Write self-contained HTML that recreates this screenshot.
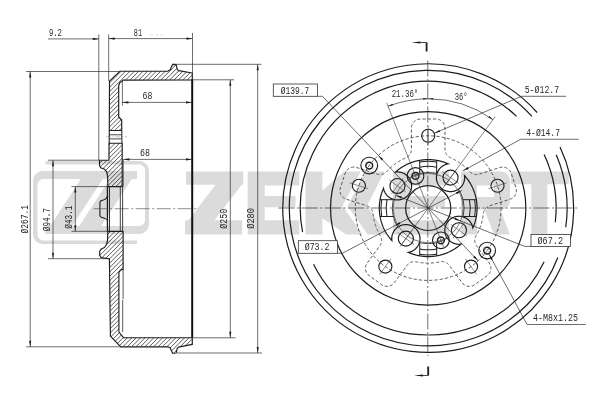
<!DOCTYPE html>
<html><head><meta charset="utf-8"><style>
html,body{margin:0;padding:0;background:#fff;}
svg{display:block;will-change:transform;}
text{font-family:"Liberation Mono",monospace;}
</style></head><body>
<svg width="600" height="400" viewBox="0 0 600 400">
<rect width="600" height="400" fill="#fff"/>
<path d="M96.03 234 L139 234 L140.56 233.88 L142.09 233.51 L143.54 232.91 L144.88 232.09 L146.07 231.07 L147.09 229.88 L147.91 228.54 L148.51 227.09 L148.88 225.56 L149 224 L149 171 L148.88 169.44 L148.51 167.91 L147.91 166.46 L147.09 165.12 L146.07 163.93 L144.88 162.91 L143.54 162.09 L142.09 161.49 L140.56 161.12 L139 161 L45.5 161 L45.5 164.5 L139 164.5 L139.94 164.57 L140.85 164.79 L141.72 165.15 L142.53 165.65 L143.24 166.26 L143.85 166.97 L144.35 167.78 L144.71 168.65 L144.93 169.56 L145 170.5 L145 220 L144.93 220.94 L144.71 221.85 L144.35 222.72 L143.85 223.53 L143.24 224.24 L142.53 224.85 L141.72 225.35 L140.85 225.71 L139.94 225.93 L139 226 L101.23 226 L131.78 179 L137 179 L137 171 L136.97 171 L114.97 171 L107.97 171 L85.97 171 L43 171 L41.44 171.12 L39.91 171.49 L38.46 172.09 L37.12 172.91 L35.93 173.93 L34.91 175.12 L34.09 176.46 L33.49 177.91 L33.12 179.44 L33 181 L33 234 L33.12 235.56 L33.49 237.09 L34.09 238.54 L34.91 239.88 L35.93 241.07 L37.12 242.09 L38.46 242.91 L39.91 243.51 L41.44 243.88 L43 244 L137 244 L137 240.5 L43.5 240.5 L42.56 240.43 L41.65 240.21 L40.78 239.85 L39.97 239.35 L39.26 238.74 L38.65 238.03 L38.15 237.22 L37.79 236.35 L37.57 235.44 L37.5 234.5 L37.5 185 L37.57 184.06 L37.79 183.15 L38.15 182.28 L38.65 181.47 L39.26 180.76 L39.97 180.15 L40.78 179.65 L41.65 179.29 L42.56 179.07 L43.5 179 L80.77 179 L50.23 226 L45.5 226 L45.5 233.27 L45.02 234 L45.5 234 L67.03 234 L74.03 234 L96.03 234Z M79.23 226 L72.23 226 L102.77 179 L109.77 179 L79.23 226Z M215.52 184.7 L188.48 220.3 L185 220.3 L185 234.4 L242.2 234.4 L242.2 220.3 L214.48 220.3 L241.72 184.7 L243.2 184.7 L243.2 171.6 L186 171.6 L186 184.7 L215.52 184.7Z M247.7 234.4 L264.7 234.4 L299.3 234.4 L299.3 220.3 L264.7 220.3 L264.7 207.2 L295.5 207.2 L295.5 196 L264.7 196 L264.7 185.6 L299.3 185.6 L299.3 171.6 L264.7 171.6 L247.7 171.6 L247.7 185.6 L247.7 196 L247.7 207.2 L247.7 220.3 L247.7 234.4Z M322.4 218.27 L346 234.4 L362.7 234.4 L342.5 206 L360.6 171.6 L344 171.6 L322.4 190.65 L322.4 171.6 L305.5 171.6 L305.5 234.4 L322.4 234.4 L322.4 218.27Z M365.6 171.6 L347.5 206 L367.7 234.4 L387 234.4 L367 206 L384.5 171.6 L365.6 171.6Z M393 220.3 L393 234.4 L410 234.4 L449 234.4 L449 220.3 L410 220.3 L410 207.2 L445 207.2 L445 196 L410 196 L410 185.6 L449 185.6 L449 171.6 L410 171.6 L393 171.6 L393 185.6 L393 196 L393 207.2 L393 220.3Z M501 209.5 L502.41 209.39 L503.78 209.06 L505.09 208.52 L506.29 207.78 L507.36 206.86 L508.28 205.79 L509.02 204.59 L509.56 203.28 L509.89 201.91 L510 200.5 L510 180.6 L509.89 179.19 L509.56 177.82 L509.02 176.51 L508.28 175.31 L507.36 174.24 L506.29 173.32 L505.09 172.58 L503.78 172.04 L502.41 171.71 L501 171.6 L477 171.6 L461 171.6 L461 209.5 L461 234.4 L477 234.4 L477 209.5 L484.2 209.5 L494 234.4 L510 234.4 L500.2 209.5 L501 209.5Z M477 197 L477 185.6 L494 185.6 L494 197 L477 197Z M510.7 171.6 L510.7 184.3 L531.3 184.3 L531.3 234.4 L547.3 234.4 L547.3 184.3 L568.7 184.3 L568.7 171.6 L547.3 171.6 L531.3 171.6 L510.7 171.6Z" fill="#dbdbdb" fill-rule="evenodd"/>
<clipPath id="sec"><path d="M192.3 73 L178.6 70.6 L177.2 69.2 L176.6 66.5 L176.2 64.6 L172.6 64.4 L171.6 66.5 L170.3 69.8 L168 71.1 L120.1 71.2 L109.5 81.1 L109.3 130.5 L121.7 130.5 L121.7 120 L118.7 117 L118.7 85.8 L119.6 83 L123 80.1 L192.3 80 Z M109 143.2 L109 160.2 L99.5 160.2 L99.5 165.5 L100.7 167.7 L104.5 169.2 L106.7 172.2 L107.6 176 L107.8 186.6 L122.2 186.6 L122.2 143.2 Z M108.2 231.4 L123.1 231.4 L123.1 269.4 L120.3 270.3 L118.9 272.5 L118.9 332 L123.5 337.7 L192.3 337.7 L192.3 344.4 L178.6 347.1 L177.2 348.5 L176.6 351.2 L176.2 353 L172.6 353.2 L171.6 351.2 L170.3 347.9 L168 346.8 L120.8 346.8 L110.4 336.2 L109.4 258.7 L101.2 257.6 L99.7 255.5 L99.7 251.2 L101.2 249 L104.5 247.5 L106.5 244.5 L107.6 240 L107.8 231.4 Z"/></clipPath>
<path clip-path="url(#sec)" d="M-300 400 L100 0 M-295.6 400 L104.4 0 M-291.2 400 L108.8 0 M-286.8 400 L113.2 0 M-282.4 400 L117.6 0 M-278 400 L122 0 M-273.6 400 L126.4 0 M-269.2 400 L130.8 0 M-264.8 400 L135.2 0 M-260.4 400 L139.6 0 M-256 400 L144 0 M-251.6 400 L148.4 0 M-247.2 400 L152.8 0 M-242.8 400 L157.2 0 M-238.4 400 L161.6 0 M-234 400 L166 0 M-229.6 400 L170.4 0 M-225.2 400 L174.8 0 M-220.8 400 L179.2 0 M-216.4 400 L183.6 0 M-212 400 L188 0 M-207.6 400 L192.4 0 M-203.2 400 L196.8 0 M-198.8 400 L201.2 0 M-194.4 400 L205.6 0 M-190 400 L210 0 M-185.6 400 L214.4 0 M-181.2 400 L218.8 0 M-176.8 400 L223.2 0 M-172.4 400 L227.6 0 M-168 400 L232 0 M-163.6 400 L236.4 0 M-159.2 400 L240.8 0 M-154.8 400 L245.2 0 M-150.4 400 L249.6 0 M-146 400 L254 0 M-141.6 400 L258.4 0 M-137.2 400 L262.8 0 M-132.8 400 L267.2 0 M-128.4 400 L271.6 0 M-124 400 L276 0 M-119.6 400 L280.4 0 M-115.2 400 L284.8 0 M-110.8 400 L289.2 0 M-106.4 400 L293.6 0 M-102 400 L298 0 M-97.6 400 L302.4 0 M-93.2 400 L306.8 0 M-88.8 400 L311.2 0 M-84.4 400 L315.6 0 M-80 400 L320 0 M-75.6 400 L324.4 0 M-71.2 400 L328.8 0 M-66.8 400 L333.2 0 M-62.4 400 L337.6 0 M-58 400 L342 0 M-53.6 400 L346.4 0 M-49.2 400 L350.8 0 M-44.8 400 L355.2 0 M-40.4 400 L359.6 0 M-36 400 L364 0 M-31.6 400 L368.4 0 M-27.2 400 L372.8 0 M-22.8 400 L377.2 0 M-18.4 400 L381.6 0 M-14 400 L386 0 M-9.6 400 L390.4 0 M-5.2 400 L394.8 0 M-0.8 400 L399.2 0 M3.6 400 L403.6 0 M8 400 L408 0 M12.4 400 L412.4 0 M16.8 400 L416.8 0 M21.2 400 L421.2 0 M25.6 400 L425.6 0 M30 400 L430 0 M34.4 400 L434.4 0 M38.8 400 L438.8 0 M43.2 400 L443.2 0 M47.6 400 L447.6 0 M52 400 L452 0 M56.4 400 L456.4 0 M60.8 400 L460.8 0 M65.2 400 L465.2 0 M69.6 400 L469.6 0 M74 400 L474 0 M78.4 400 L478.4 0 M82.8 400 L482.8 0 M87.2 400 L487.2 0 M91.6 400 L491.6 0 M96 400 L496 0 M100.4 400 L500.4 0 M104.8 400 L504.8 0 M109.2 400 L509.2 0 M113.6 400 L513.6 0 M118 400 L518 0 M122.4 400 L522.4 0 M126.8 400 L526.8 0 M131.2 400 L531.2 0 M135.6 400 L535.6 0 M140 400 L540 0 M144.4 400 L544.4 0 M148.8 400 L548.8 0 M153.2 400 L553.2 0 M157.6 400 L557.6 0 M162 400 L562 0 M166.4 400 L566.4 0 M170.8 400 L570.8 0 M175.2 400 L575.2 0 M179.6 400 L579.6 0 M184 400 L584 0 M188.4 400 L588.4 0 M192.8 400 L592.8 0 M197.2 400 L597.2 0 M201.6 400 L601.6 0 M206 400 L606 0 M210.4 400 L610.4 0 M214.8 400 L614.8 0 M219.2 400 L619.2 0" stroke="#333" stroke-width="0.8" fill="none"/>
<path d="M192.3 73 L178.6 70.6 L177.2 69.2 L176.6 66.5 L176.2 64.6 L172.6 64.4 L171.6 66.5 L170.3 69.8 L168 71.1 L120.1 71.2 L109.5 81.1 L109.3 130.5 L121.7 130.5 L121.7 120 L118.7 117 L118.7 85.8 L119.6 83 L123 80.1 L192.3 80 Z" fill="none" stroke="#1c1c1c" stroke-width="1.15" stroke-linejoin="round"/>
<path d="M109 143.2 L109 160.2 L99.5 160.2 L99.5 165.5 L100.7 167.7 L104.5 169.2 L106.7 172.2 L107.6 176 L107.8 186.6 L122.2 186.6 L122.2 143.2 Z" fill="none" stroke="#1c1c1c" stroke-width="1.15" stroke-linejoin="round"/>
<path d="M108.2 231.4 L123.1 231.4 L123.1 269.4 L120.3 270.3 L118.9 272.5 L118.9 332 L123.5 337.7 L192.3 337.7 L192.3 344.4 L178.6 347.1 L177.2 348.5 L176.6 351.2 L176.2 353 L172.6 353.2 L171.6 351.2 L170.3 347.9 L168 346.8 L120.8 346.8 L110.4 336.2 L109.4 258.7 L101.2 257.6 L99.7 255.5 L99.7 251.2 L101.2 249 L104.5 247.5 L106.5 244.5 L107.6 240 L107.8 231.4 Z" fill="none" stroke="#1c1c1c" stroke-width="1.15" stroke-linejoin="round"/>
<line x1="107.4" y1="186.6" x2="107.4" y2="231.4" stroke="#1c1c1c" stroke-width="1.2" stroke-linecap="butt"/>
<line x1="109.4" y1="186.6" x2="109.4" y2="231.4" stroke="#1c1c1c" stroke-width="1.0" stroke-linecap="butt"/>
<path d="M107.4 195.8 C107 199.3 103.5 200.2 101.3 200.6 Q99.9 201 99.9 202.8 L99.9 215 Q99.9 216.8 101.3 217.2 C103.5 217.7 107 218.5 107.4 220.6" fill="none" stroke="#1c1c1c" stroke-width="1.1"/>
<line x1="120.3" y1="186.6" x2="120.3" y2="231.4" stroke="#2e2e2e" stroke-width="0.9" stroke-linecap="butt"/>
<line x1="123.3" y1="159.4" x2="123.3" y2="186.6" stroke="#2e2e2e" stroke-width="0.7" stroke-linecap="butt"/>
<line x1="122.6" y1="186.6" x2="122.6" y2="231.4" stroke="#2e2e2e" stroke-width="0.9" stroke-linecap="butt"/>
<line x1="109.3" y1="130.5" x2="109.2" y2="143.2" stroke="#1c1c1c" stroke-width="1.1" stroke-linecap="butt"/>
<line x1="121.8" y1="130.5" x2="121.9" y2="143.2" stroke="#1c1c1c" stroke-width="1.0" stroke-linecap="butt"/>
<line x1="109.3" y1="134.8" x2="121.7" y2="134.8" stroke="#333" stroke-width="0.9" stroke-linecap="butt"/>
<line x1="109.3" y1="138.9" x2="121.7" y2="138.9" stroke="#333" stroke-width="0.9" stroke-linecap="butt"/>
<line x1="106" y1="136.8" x2="127" y2="136.8" stroke="#888" stroke-width="0.5" stroke-dasharray="5,1.5,1.5,1.5" stroke-linecap="butt"/>
<line x1="122.4" y1="80" x2="122.4" y2="105.5" stroke="#2e2e2e" stroke-width="0.7" stroke-linecap="butt"/>
<line x1="123.1" y1="269.4" x2="123.1" y2="299" stroke="#2e2e2e" stroke-width="0.8" stroke-linecap="butt"/>
<line x1="122.7" y1="300" x2="122.7" y2="332" stroke="#2e2e2e" stroke-width="0.8" stroke-linecap="butt"/>
<line x1="192.2" y1="79.8" x2="192.2" y2="337.8" stroke="#111" stroke-width="2.0" stroke-linecap="butt"/>
<line x1="98.8" y1="34.5" x2="98.8" y2="160.2" stroke="#2e2e2e" stroke-width="0.7" stroke-linecap="butt"/>
<line x1="108.7" y1="34.5" x2="108.7" y2="81" stroke="#2e2e2e" stroke-width="0.7" stroke-linecap="butt"/>
<line x1="192.5" y1="33" x2="192.5" y2="73" stroke="#2e2e2e" stroke-width="0.7" stroke-linecap="butt"/>
<line x1="26" y1="71.5" x2="120" y2="71.5" stroke="#2e2e2e" stroke-width="0.7" stroke-linecap="butt"/>
<line x1="172.5" y1="64.3" x2="261.5" y2="64.3" stroke="#2e2e2e" stroke-width="0.7" stroke-linecap="butt"/>
<line x1="192.3" y1="79.8" x2="234" y2="79.8" stroke="#2e2e2e" stroke-width="0.7" stroke-linecap="butt"/>
<line x1="192.3" y1="337.8" x2="235.5" y2="337.8" stroke="#2e2e2e" stroke-width="0.7" stroke-linecap="butt"/>
<line x1="177" y1="353" x2="262" y2="353" stroke="#2e2e2e" stroke-width="0.7" stroke-linecap="butt"/>
<line x1="26" y1="346.8" x2="120.8" y2="346.8" stroke="#2e2e2e" stroke-width="0.7" stroke-linecap="butt"/>
<line x1="48" y1="160.2" x2="99.5" y2="160.2" stroke="#2e2e2e" stroke-width="0.7" stroke-linecap="butt"/>
<line x1="48" y1="258.7" x2="109.4" y2="258.7" stroke="#2e2e2e" stroke-width="0.7" stroke-linecap="butt"/>
<line x1="71.5" y1="186.6" x2="108" y2="186.6" stroke="#2e2e2e" stroke-width="0.7" stroke-linecap="butt"/>
<line x1="71.5" y1="231.3" x2="108" y2="231.3" stroke="#2e2e2e" stroke-width="0.7" stroke-linecap="butt"/>
<line x1="48" y1="38.9" x2="98.8" y2="38.9" stroke="#2e2e2e" stroke-width="0.7" stroke-linecap="butt"/>
<path d="M98.8 38.9 L92.8 39.95 L92.8 37.85 Z" fill="#1c1c1c"/>
<line x1="108.7" y1="38.6" x2="192.5" y2="38.6" stroke="#2e2e2e" stroke-width="0.7" stroke-linecap="butt"/>
<path d="M108.7 38.6 L114.7 37.55 L114.7 39.65 Z" fill="#1c1c1c"/>
<path d="M192.5 38.6 L186.5 39.65 L186.5 37.55 Z" fill="#1c1c1c"/>
<line x1="122.4" y1="102.4" x2="192" y2="102.4" stroke="#2e2e2e" stroke-width="0.7" stroke-linecap="butt"/>
<path d="M122.4 102.4 L128.4 101.35 L128.4 103.45 Z" fill="#1c1c1c"/>
<path d="M192 102.4 L186 103.45 L186 101.35 Z" fill="#1c1c1c"/>
<line x1="123.4" y1="159.4" x2="192" y2="159.4" stroke="#2e2e2e" stroke-width="0.7" stroke-linecap="butt"/>
<path d="M123.4 159.4 L129.4 158.35 L129.4 160.45 Z" fill="#1c1c1c"/>
<path d="M192 159.4 L186 160.45 L186 158.35 Z" fill="#1c1c1c"/>
<line x1="30.2" y1="71.5" x2="30.2" y2="346.8" stroke="#2e2e2e" stroke-width="0.7" stroke-linecap="butt"/>
<path d="M30.2 71.5 L31.25 77.5 L29.15 77.5 Z" fill="#1c1c1c"/>
<path d="M30.2 346.8 L29.15 340.8 L31.25 340.8 Z" fill="#1c1c1c"/>
<line x1="53" y1="160.2" x2="53" y2="258.7" stroke="#2e2e2e" stroke-width="0.7" stroke-linecap="butt"/>
<path d="M53 160.2 L54.05 166.2 L51.95 166.2 Z" fill="#1c1c1c"/>
<path d="M53 258.7 L51.95 252.7 L54.05 252.7 Z" fill="#1c1c1c"/>
<line x1="75.3" y1="186.6" x2="75.3" y2="231.3" stroke="#2e2e2e" stroke-width="0.7" stroke-linecap="butt"/>
<path d="M75.3 186.6 L76.35 192.6 L74.25 192.6 Z" fill="#1c1c1c"/>
<path d="M75.3 231.3 L74.25 225.3 L76.35 225.3 Z" fill="#1c1c1c"/>
<line x1="230.3" y1="79.8" x2="230.3" y2="337.8" stroke="#2e2e2e" stroke-width="0.7" stroke-linecap="butt"/>
<path d="M230.3 79.8 L231.35 85.8 L229.25 85.8 Z" fill="#1c1c1c"/>
<path d="M230.3 337.8 L229.25 331.8 L231.35 331.8 Z" fill="#1c1c1c"/>
<line x1="257.7" y1="64.3" x2="257.7" y2="353" stroke="#2e2e2e" stroke-width="0.7" stroke-linecap="butt"/>
<path d="M257.7 64.3 L258.75 70.3 L256.65 70.3 Z" fill="#1c1c1c"/>
<path d="M257.7 353 L256.65 347 L258.75 347 Z" fill="#1c1c1c"/>
<line x1="93.7" y1="208.7" x2="199" y2="208.7" stroke="#444" stroke-width="0.6" stroke-dasharray="14,2.5,2,2.5" stroke-linecap="butt"/>
<line x1="150.8" y1="34.9" x2="165.7" y2="34.9" stroke="#bbb" stroke-width="0.6" stroke-dasharray="2,3" stroke-linecap="butt"/>
<text x="48.9" y="36.1" font-size="10.4" textLength="13.1" lengthAdjust="spacingAndGlyphs" fill="#2a2a2a">9.2</text>
<text x="133.8" y="35.8" font-size="10.4" textLength="8.2" lengthAdjust="spacingAndGlyphs" fill="#2a2a2a">81</text>
<text x="142.6" y="99" font-size="10.4" textLength="9.8" lengthAdjust="spacingAndGlyphs" fill="#2a2a2a">68</text>
<text x="140" y="156" font-size="10.4" textLength="10" lengthAdjust="spacingAndGlyphs" fill="#2a2a2a">68</text>
<text x="28" y="233.5" font-size="10.4" textLength="28.5" lengthAdjust="spacingAndGlyphs" fill="#2a2a2a" transform="rotate(-90 28 233.5)">Ø267.1</text>
<text x="49.7" y="231.2" font-size="10.4" textLength="23.2" lengthAdjust="spacingAndGlyphs" fill="#2a2a2a" transform="rotate(-90 49.7 231.2)">Ø94.7</text>
<text x="72.3" y="228.7" font-size="10.4" textLength="23.2" lengthAdjust="spacingAndGlyphs" fill="#2a2a2a" transform="rotate(-90 72.3 228.7)">Ø43.1</text>
<text x="226.9" y="228.75" font-size="10.4" textLength="20" lengthAdjust="spacingAndGlyphs" fill="#2a2a2a" transform="rotate(-90 226.9 228.75)">Ø250</text>
<text x="254.4" y="228.75" font-size="10.4" textLength="20.75" lengthAdjust="spacingAndGlyphs" fill="#2a2a2a" transform="rotate(-90 254.4 228.75)">Ø280</text>
<g transform="matrix(1.008,0,0,1,-3.43,0)">
<path d="M558.98 147.12 A144.3 144.3 0 1 1 536.27 112.48" fill="none" stroke="#1c1c1c" stroke-width="1.2"/>
<path d="M555.23 154.7 A137.8 137.8 0 0 1 564.66 227.28" fill="none" stroke="#1c1c1c" stroke-width="1.2"/>
<path d="M556.85 257.48 A137.8 137.8 0 1 1 531.09 116.43" fill="none" stroke="#1c1c1c" stroke-width="1.2"/>
<path d="M543.21 154.47 A126.9 126.9 0 0 1 554.31 222.25" fill="none" stroke="#1c1c1c" stroke-width="1.2"/>
<path d="M543.21 261.73 A126.9 126.9 0 0 1 314.44 264.33" fill="none" stroke="#1c1c1c" stroke-width="1.2"/>
<path d="M303.59 232.1 A126.9 126.9 0 0 1 515.87 116.36" fill="none" stroke="#1c1c1c" stroke-width="1.2"/>
<ellipse cx="428.2" cy="208.35" rx="96.9" ry="96.75" fill="none" stroke="#1c1c1c" stroke-width="1.2"/>
<circle cx="428.2" cy="208.1" r="72.3" fill="none" stroke="#333" stroke-width="0.8" stroke-dasharray="3.2,2"/>
<path d="M367.29 205.82 L367.5 205.89 L367.71 205.96 L367.91 206.04 L368.12 206.13 L368.32 206.22 L368.52 206.32 L368.72 206.42 L368.91 206.53 L369.1 206.64 L369.29 206.75 L369.48 206.87 L369.66 207 L369.84 207.13 L370.02 207.26 L370.19 207.4 L370.37 207.54 L370.53 207.69 L370.69 207.84 L370.85 207.99 L371.01 208.15 L371.16 208.31 L371.31 208.48 L371.45 208.65 L371.59 208.82 L371.73 209 L371.86 209.18 L371.98 209.36 L372.1 209.55 L372.22 209.73 L372.33 209.93 L372.44 210.12 L372.54 210.32 L372.64 210.52 L372.73 210.72 L372.82 210.92 L372.9 211.13 L372.98 211.33 L373.05 211.54 L373.12 211.76 L373.18 211.97 L373.24 212.18 L373.29 212.4 L373.33 212.62 L373.38 212.83 L373.41 213.05 L373.44 213.27 L373.47 213.49 L373.47 213.52 L373.53 214.13 L373.54 214.19 L373.61 214.81 L373.62 214.86 L373.7 215.47 L373.7 215.53 L373.79 216.14 L373.8 216.2 L373.89 216.81 L373.9 216.86 L374.01 217.48 L374.01 217.53 L374.12 218.14 L374.13 218.19 L374.25 218.8 L374.26 218.86 L374.39 219.46 L374.4 219.52 L374.53 220.12 L374.54 220.18 L374.68 220.78 L374.69 220.84 L374.84 221.44 L374.86 221.49 L375.01 222.09 L375.02 222.14 L375.19 222.74 L375.2 222.8 L375.37 223.39 L375.38 223.45 L375.56 224.04 L375.58 224.09 L375.76 224.68 L375.78 224.74 L375.97 225.33 L375.98 225.38 L376.18 225.97 L376.2 226.02 L376.41 226.6 L376.42 226.65 L376.64 227.24 L376.66 227.29 L376.88 227.87 L376.9 227.92 L377.12 228.5 L377.14 228.55 L377.38 229.12 L377.4 229.17 L377.64 229.74 L377.66 229.79 L377.91 230.36 L377.93 230.41 L378.18 230.98 L378.21 231.03 L378.47 231.59 L378.49 231.64 L378.76 232.2 L378.79 232.25 L379.06 232.8 L379.09 232.85 L379.37 233.41 L379.39 233.45 L379.68 234 L379.71 234.05 L380 234.6 L380.03 234.64 L380.33 235.19 L380.36 235.23 L380.67 235.77 L380.7 235.82 L380.73 235.88 L380.84 236.07 L380.95 236.27 L381.05 236.47 L381.15 236.67 L381.24 236.87 L381.32 237.08 L381.4 237.28 L381.48 237.49 L381.55 237.7 L381.62 237.92 L381.68 238.13 L381.73 238.35 L381.78 238.56 L381.83 238.78 L381.87 239 L381.9 239.22 L381.93 239.44 L381.95 239.66 L381.97 239.88 L381.98 240.11 L381.98 240.33 L381.98 240.55 L381.98 240.77 L381.97 241 L381.95 241.22 L381.93 241.44 L381.9 241.66 L381.87 241.88 L381.83 242.1 L381.79 242.32 L381.74 242.54 L381.69 242.75 L381.63 242.97 L381.56 243.18 L381.49 243.39 L381.42 243.6 L381.34 243.81 L381.25 244.01 L381.16 244.22 L381.07 244.42 L380.97 244.62 L380.86 244.81 L380.75 245 L380.64 245.2 L380.52 245.38 L380.39 245.57 L380.27 245.75 L367.68 263.07 L367.65 263.12 L367.62 263.17 L366.94 264.27 L366.91 264.32 L366.89 264.37 L366.39 265.57 L366.37 265.62 L366.36 265.68 L366.05 266.94 L366.04 267 L366.04 267.06 L365.93 268.35 L365.93 268.41 L365.93 268.46 L366.04 269.75 L366.04 269.81 L366.05 269.87 L366.36 271.13 L366.37 271.19 L366.39 271.24 L366.89 272.44 L366.91 272.49 L366.94 272.54 L367.62 273.65 L367.65 273.7 L367.69 273.74 L368.53 274.72 L368.57 274.77 L368.61 274.81 L369.59 275.65 L369.64 275.69 L369.69 275.72 L381.97 284.65 L382.02 284.68 L382.07 284.71 L383.17 285.39 L383.22 285.42 L383.28 285.44 L384.47 285.94 L384.53 285.96 L384.58 285.97 L385.84 286.27 L385.9 286.29 L385.96 286.29 L387.25 286.39 L387.31 286.4 L387.37 286.39 L388.66 286.29 L388.72 286.29 L388.77 286.27 L390.03 285.97 L390.09 285.96 L390.14 285.94 L391.34 285.44 L391.39 285.42 L391.44 285.39 L392.55 284.71 L392.6 284.68 L392.64 284.64 L393.63 283.8 L393.67 283.76 L393.71 283.72 L394.55 282.73 L394.59 282.69 L394.62 282.64 L407.21 265.32 L407.34 265.14 L407.48 264.97 L407.62 264.8 L407.76 264.63 L407.91 264.47 L408.06 264.31 L408.22 264.15 L408.38 264 L408.55 263.85 L408.71 263.71 L408.89 263.57 L409.06 263.43 L409.24 263.3 L409.42 263.17 L409.61 263.05 L409.79 262.93 L409.98 262.82 L410.18 262.71 L410.37 262.61 L410.57 262.51 L410.77 262.41 L410.98 262.33 L411.18 262.24 L411.39 262.16 L411.6 262.09 L411.81 262.02 L412.02 261.96 L412.23 261.9 L412.45 261.85 L412.67 261.8 L412.88 261.76 L413.1 261.72 L413.32 261.69 L413.54 261.66 L413.76 261.64 L413.98 261.63 L414.2 261.62 L414.43 261.61 L414.65 261.61 L414.87 261.62 L415.09 261.63 L415.31 261.65 L415.53 261.67 L415.75 261.7 L415.97 261.74 L416.19 261.77 L416.41 261.82 L416.78 261.9 L416.84 261.91 L417.44 262.04 L417.5 262.05 L418.11 262.17 L418.16 262.18 L418.77 262.29 L418.82 262.29 L419.44 262.4 L419.49 262.41 L420.1 262.5 L420.16 262.51 L420.77 262.6 L420.83 262.6 L421.44 262.68 L421.49 262.69 L422.11 262.76 L422.17 262.77 L422.78 262.83 L422.84 262.84 L423.45 262.89 L423.51 262.9 L424.13 262.95 L424.18 262.95 L424.8 262.99 L424.85 263 L425.47 263.03 L425.53 263.03 L426.15 263.06 L426.2 263.06 L426.82 263.08 L426.88 263.08 L427.5 263.1 L427.55 263.1 L428.17 263.1 L428.23 263.1 L428.85 263.1 L428.9 263.1 L429.52 263.08 L429.58 263.08 L430.2 263.06 L430.25 263.06 L430.87 263.03 L430.93 263.03 L431.55 263 L431.6 262.99 L432.22 262.95 L432.27 262.95 L432.89 262.9 L432.95 262.89 L433.56 262.84 L433.62 262.83 L434.23 262.77 L434.29 262.76 L434.91 262.69 L434.96 262.68 L435.57 262.6 L435.63 262.6 L436.24 262.51 L436.3 262.5 L436.91 262.41 L436.96 262.4 L437.58 262.29 L437.63 262.29 L438.24 262.18 L438.29 262.17 L438.9 262.05 L438.96 262.04 L439.56 261.91 L439.62 261.9 L439.99 261.82 L440.21 261.77 L440.43 261.74 L440.65 261.7 L440.87 261.67 L441.09 261.65 L441.31 261.63 L441.53 261.62 L441.75 261.61 L441.97 261.61 L442.2 261.62 L442.42 261.63 L442.64 261.64 L442.86 261.66 L443.08 261.69 L443.3 261.72 L443.52 261.76 L443.73 261.8 L443.95 261.85 L444.17 261.9 L444.38 261.96 L444.59 262.02 L444.8 262.09 L445.01 262.16 L445.22 262.24 L445.42 262.33 L445.63 262.41 L445.83 262.51 L446.03 262.61 L446.22 262.71 L446.42 262.82 L446.61 262.93 L446.79 263.05 L446.98 263.17 L447.16 263.3 L447.34 263.43 L447.51 263.57 L447.69 263.71 L447.85 263.85 L448.02 264 L448.18 264.15 L448.34 264.31 L448.49 264.47 L448.64 264.63 L448.78 264.8 L448.92 264.97 L449.06 265.14 L449.19 265.32 L461.78 282.64 L461.81 282.69 L461.85 282.73 L462.69 283.72 L462.73 283.76 L462.77 283.8 L463.76 284.64 L463.8 284.68 L463.85 284.71 L464.96 285.39 L465.01 285.42 L465.06 285.44 L466.26 285.94 L466.31 285.96 L466.37 285.97 L467.63 286.27 L467.68 286.29 L467.74 286.29 L469.03 286.39 L469.09 286.4 L469.15 286.39 L470.44 286.29 L470.5 286.29 L470.56 286.27 L471.82 285.97 L471.87 285.96 L471.93 285.94 L473.12 285.44 L473.18 285.42 L473.23 285.39 L474.33 284.71 L474.38 284.68 L474.43 284.65 L486.71 275.72 L486.76 275.69 L486.81 275.65 L487.79 274.81 L487.83 274.77 L487.87 274.72 L488.71 273.74 L488.75 273.7 L488.78 273.65 L489.46 272.54 L489.49 272.49 L489.51 272.44 L490.01 271.24 L490.03 271.19 L490.04 271.13 L490.35 269.87 L490.36 269.81 L490.36 269.75 L490.47 268.46 L490.47 268.41 L490.47 268.35 L490.36 267.06 L490.36 267 L490.35 266.94 L490.04 265.68 L490.03 265.62 L490.01 265.57 L489.51 264.37 L489.49 264.32 L489.46 264.27 L488.78 263.17 L488.75 263.12 L488.72 263.07 L476.13 245.75 L476.01 245.57 L475.88 245.38 L475.76 245.2 L475.65 245 L475.54 244.81 L475.43 244.62 L475.33 244.42 L475.24 244.22 L475.15 244.01 L475.06 243.81 L474.98 243.6 L474.91 243.39 L474.84 243.18 L474.77 242.97 L474.71 242.75 L474.66 242.54 L474.61 242.32 L474.57 242.1 L474.53 241.88 L474.5 241.66 L474.47 241.44 L474.45 241.22 L474.43 241 L474.42 240.77 L474.42 240.55 L474.42 240.33 L474.42 240.11 L474.43 239.88 L474.45 239.66 L474.47 239.44 L474.5 239.22 L474.53 239 L474.57 238.78 L474.62 238.56 L474.67 238.35 L474.72 238.13 L474.78 237.92 L474.85 237.7 L474.92 237.49 L475 237.28 L475.08 237.08 L475.16 236.87 L475.25 236.67 L475.35 236.47 L475.45 236.27 L475.56 236.07 L475.67 235.88 L475.7 235.82 L475.73 235.77 L476.04 235.23 L476.07 235.19 L476.37 234.64 L476.4 234.6 L476.69 234.05 L476.72 234 L477.01 233.45 L477.03 233.41 L477.31 232.85 L477.34 232.8 L477.61 232.25 L477.64 232.2 L477.91 231.64 L477.93 231.59 L478.19 231.03 L478.22 230.98 L478.47 230.41 L478.49 230.36 L478.74 229.79 L478.76 229.74 L479 229.17 L479.02 229.12 L479.26 228.55 L479.28 228.5 L479.5 227.92 L479.52 227.87 L479.74 227.29 L479.76 227.24 L479.98 226.65 L479.99 226.6 L480.2 226.02 L480.22 225.97 L480.42 225.38 L480.43 225.33 L480.62 224.74 L480.64 224.68 L480.82 224.09 L480.84 224.04 L481.02 223.45 L481.03 223.39 L481.2 222.8 L481.21 222.74 L481.38 222.14 L481.39 222.09 L481.54 221.49 L481.56 221.44 L481.71 220.84 L481.72 220.78 L481.86 220.18 L481.87 220.12 L482 219.52 L482.01 219.46 L482.14 218.86 L482.15 218.8 L482.27 218.19 L482.28 218.14 L482.39 217.53 L482.39 217.48 L482.5 216.86 L482.51 216.81 L482.6 216.2 L482.61 216.14 L482.7 215.53 L482.7 215.47 L482.78 214.86 L482.79 214.81 L482.86 214.19 L482.87 214.13 L482.93 213.52 L482.93 213.49 L482.96 213.27 L482.99 213.05 L483.02 212.83 L483.07 212.62 L483.11 212.4 L483.16 212.18 L483.22 211.97 L483.28 211.76 L483.35 211.54 L483.42 211.33 L483.5 211.13 L483.58 210.92 L483.67 210.72 L483.76 210.52 L483.86 210.32 L483.96 210.12 L484.07 209.93 L484.18 209.73 L484.3 209.55 L484.42 209.36 L484.54 209.18 L484.67 209 L484.81 208.82 L484.95 208.65 L485.09 208.48 L485.24 208.31 L485.39 208.15 L485.55 207.99 L485.71 207.84 L485.87 207.69 L486.03 207.54 L486.21 207.4 L486.38 207.26 L486.56 207.13 L486.74 207 L486.92 206.87 L487.11 206.75 L487.3 206.64 L487.49 206.53 L487.68 206.42 L487.88 206.32 L488.08 206.22 L488.28 206.13 L488.49 206.04 L488.69 205.96 L488.9 205.89 L489.11 205.82 L509.47 199.2 L509.52 199.18 L509.58 199.16 L510.78 198.66 L510.83 198.64 L510.88 198.61 L511.98 197.94 L512.03 197.9 L512.08 197.87 L513.06 197.03 L513.11 196.99 L513.15 196.94 L513.99 195.96 L514.02 195.91 L514.06 195.86 L514.73 194.76 L514.76 194.71 L514.79 194.65 L515.28 193.46 L515.3 193.4 L515.32 193.35 L515.62 192.09 L515.63 192.03 L515.64 191.97 L515.74 190.68 L515.74 190.62 L515.74 190.56 L515.64 189.27 L515.63 189.22 L515.62 189.16 L515.32 187.9 L515.3 187.84 L515.28 187.79 L510.59 173.35 L510.57 173.29 L510.55 173.24 L510.06 172.04 L510.03 171.99 L510 171.94 L509.33 170.83 L509.3 170.78 L509.26 170.74 L508.42 169.75 L508.38 169.71 L508.33 169.67 L507.35 168.83 L507.31 168.79 L507.26 168.76 L506.15 168.08 L506.1 168.05 L506.05 168.03 L504.85 167.54 L504.8 167.51 L504.74 167.5 L503.48 167.2 L503.42 167.18 L503.36 167.18 L502.07 167.08 L502.02 167.07 L501.96 167.08 L500.67 167.18 L500.61 167.18 L500.55 167.2 L499.29 167.5 L499.23 167.51 L499.18 167.53 L478.82 174.15 L478.61 174.21 L478.4 174.27 L478.18 174.33 L477.97 174.38 L477.75 174.42 L477.53 174.46 L477.31 174.5 L477.09 174.52 L476.87 174.55 L476.65 174.57 L476.43 174.58 L476.21 174.58 L475.99 174.59 L475.77 174.58 L475.55 174.57 L475.33 174.56 L475.11 174.54 L474.89 174.51 L474.67 174.48 L474.45 174.45 L474.23 174.4 L474.02 174.36 L473.8 174.3 L473.59 174.25 L473.38 174.18 L473.17 174.12 L472.96 174.04 L472.75 173.96 L472.55 173.88 L472.34 173.79 L472.14 173.7 L471.95 173.6 L471.75 173.5 L471.56 173.39 L471.37 173.28 L471.18 173.16 L470.99 173.04 L470.81 172.91 L470.63 172.78 L470.46 172.65 L470.29 172.51 L470.12 172.37 L469.95 172.22 L469.79 172.07 L469.64 171.91 L469.48 171.75 L469.33 171.59 L468.97 171.18 L468.93 171.14 L468.51 170.69 L468.48 170.65 L468.05 170.2 L468.01 170.16 L467.58 169.71 L467.55 169.67 L467.11 169.23 L467.07 169.19 L466.63 168.75 L466.59 168.72 L466.14 168.29 L466.1 168.25 L465.65 167.82 L465.61 167.79 L465.16 167.37 L465.12 167.33 L464.65 166.92 L464.61 166.88 L464.15 166.47 L464.1 166.44 L463.63 166.03 L463.59 166 L463.11 165.6 L463.07 165.57 L462.59 165.18 L462.55 165.14 L462.06 164.76 L462.02 164.72 L461.52 164.35 L461.48 164.31 L460.99 163.94 L460.94 163.91 L460.44 163.54 L460.4 163.51 L459.89 163.15 L459.85 163.12 L459.34 162.76 L459.29 162.73 L458.78 162.38 L458.73 162.35 L458.22 162.01 L458.17 161.98 L457.65 161.65 L457.6 161.62 L457.08 161.29 L457.03 161.26 L456.5 160.94 L456.45 160.91 L455.92 160.6 L455.87 160.57 L455.33 160.26 L455.29 160.23 L454.74 159.93 L454.7 159.9 L454.15 159.61 L454.1 159.58 L453.55 159.29 L453.51 159.27 L452.95 158.99 L452.9 158.96 L452.35 158.69 L452.3 158.66 L451.74 158.39 L451.69 158.37 L451.13 158.11 L451.08 158.08 L450.51 157.83 L450.46 157.81 L450.25 157.72 L450.05 157.62 L449.85 157.53 L449.65 157.43 L449.46 157.32 L449.27 157.21 L449.08 157.1 L448.89 156.98 L448.71 156.85 L448.52 156.72 L448.35 156.59 L448.17 156.45 L448 156.31 L447.84 156.16 L447.67 156.01 L447.51 155.86 L447.36 155.7 L447.21 155.54 L447.06 155.37 L446.91 155.2 L446.77 155.03 L446.64 154.85 L446.51 154.67 L446.38 154.49 L446.26 154.3 L446.14 154.12 L446.03 153.92 L445.92 153.73 L445.82 153.53 L445.72 153.33 L445.63 153.13 L445.54 152.93 L445.46 152.72 L445.38 152.51 L445.31 152.3 L445.24 152.09 L445.18 151.88 L445.12 151.66 L445.07 151.45 L445.02 151.23 L444.98 151.01 L444.95 150.79 L444.92 150.57 L444.89 150.35 L444.87 150.13 L444.86 149.91 L444.85 149.69 L444.85 149.47 L444.85 128.06 L444.85 128 L444.85 127.94 L444.74 126.65 L444.74 126.59 L444.73 126.53 L444.42 125.28 L444.41 125.22 L444.39 125.16 L443.89 123.97 L443.87 123.91 L443.84 123.86 L443.16 122.76 L443.13 122.71 L443.09 122.67 L442.25 121.68 L442.21 121.64 L442.17 121.6 L441.18 120.76 L441.14 120.72 L441.09 120.69 L439.99 120.01 L439.94 119.98 L439.88 119.96 L438.69 119.46 L438.63 119.44 L438.57 119.43 L437.32 119.12 L437.26 119.11 L437.2 119.11 L435.91 119 L435.85 119 L435.79 119 L420.61 119 L420.55 119 L420.49 119 L419.2 119.11 L419.14 119.11 L419.08 119.12 L417.83 119.43 L417.77 119.44 L417.71 119.46 L416.52 119.96 L416.46 119.98 L416.41 120.01 L415.31 120.69 L415.26 120.72 L415.22 120.76 L414.23 121.6 L414.19 121.64 L414.15 121.68 L413.31 122.67 L413.27 122.71 L413.24 122.76 L412.56 123.86 L412.53 123.91 L412.51 123.97 L412.01 125.16 L411.99 125.22 L411.98 125.28 L411.67 126.53 L411.66 126.59 L411.66 126.65 L411.55 127.94 L411.55 128 L411.55 128.06 L411.55 149.47 L411.55 149.69 L411.54 149.91 L411.53 150.13 L411.51 150.35 L411.48 150.57 L411.45 150.79 L411.42 151.01 L411.38 151.23 L411.33 151.45 L411.28 151.66 L411.22 151.88 L411.16 152.09 L411.09 152.3 L411.02 152.51 L410.94 152.72 L410.86 152.93 L410.77 153.13 L410.68 153.33 L410.58 153.53 L410.48 153.73 L410.37 153.92 L410.26 154.12 L410.14 154.3 L410.02 154.49 L409.89 154.67 L409.76 154.85 L409.63 155.03 L409.49 155.2 L409.34 155.37 L409.19 155.54 L409.04 155.7 L408.89 155.86 L408.73 156.01 L408.56 156.16 L408.4 156.31 L408.23 156.45 L408.05 156.59 L407.88 156.72 L407.69 156.85 L407.51 156.98 L407.32 157.1 L407.13 157.21 L406.94 157.32 L406.75 157.43 L406.55 157.53 L406.35 157.62 L406.15 157.72 L405.94 157.81 L405.89 157.83 L405.32 158.08 L405.27 158.11 L404.71 158.37 L404.66 158.39 L404.1 158.66 L404.05 158.69 L403.5 158.96 L403.45 158.99 L402.89 159.27 L402.85 159.29 L402.3 159.58 L402.25 159.61 L401.7 159.9 L401.66 159.93 L401.11 160.23 L401.07 160.26 L400.53 160.57 L400.48 160.6 L399.95 160.91 L399.9 160.94 L399.37 161.26 L399.32 161.29 L398.8 161.62 L398.75 161.65 L398.23 161.98 L398.18 162.01 L397.67 162.35 L397.62 162.38 L397.11 162.73 L397.06 162.76 L396.55 163.12 L396.51 163.15 L396 163.51 L395.96 163.54 L395.46 163.91 L395.41 163.94 L394.92 164.31 L394.88 164.35 L394.38 164.72 L394.34 164.76 L393.85 165.14 L393.81 165.18 L393.33 165.57 L393.29 165.6 L392.81 166 L392.77 166.03 L392.3 166.44 L392.25 166.47 L391.79 166.88 L391.75 166.92 L391.28 167.33 L391.24 167.37 L390.79 167.79 L390.75 167.82 L390.3 168.25 L390.26 168.29 L389.81 168.72 L389.77 168.75 L389.33 169.19 L389.29 169.23 L388.85 169.67 L388.82 169.71 L388.39 170.16 L388.35 170.2 L387.92 170.65 L387.89 170.69 L387.47 171.14 L387.43 171.18 L387.07 171.59 L386.92 171.75 L386.76 171.91 L386.61 172.07 L386.45 172.22 L386.28 172.37 L386.11 172.51 L385.94 172.65 L385.77 172.78 L385.59 172.91 L385.41 173.04 L385.22 173.16 L385.03 173.28 L384.84 173.39 L384.65 173.5 L384.45 173.6 L384.26 173.7 L384.06 173.79 L383.85 173.88 L383.65 173.96 L383.44 174.04 L383.23 174.12 L383.02 174.18 L382.81 174.25 L382.6 174.3 L382.38 174.36 L382.17 174.4 L381.95 174.45 L381.73 174.48 L381.51 174.51 L381.29 174.54 L381.07 174.56 L380.85 174.57 L380.63 174.58 L380.41 174.59 L380.19 174.58 L379.97 174.58 L379.75 174.57 L379.53 174.55 L379.31 174.52 L379.09 174.5 L378.87 174.46 L378.65 174.42 L378.43 174.38 L378.22 174.33 L378 174.27 L377.79 174.21 L377.58 174.15 L357.22 167.53 L357.17 167.51 L357.11 167.5 L355.85 167.2 L355.79 167.18 L355.73 167.18 L354.44 167.08 L354.38 167.07 L354.33 167.08 L353.04 167.18 L352.98 167.18 L352.92 167.2 L351.66 167.5 L351.6 167.51 L351.55 167.54 L350.35 168.03 L350.3 168.05 L350.25 168.08 L349.14 168.76 L349.09 168.79 L349.05 168.83 L348.07 169.67 L348.02 169.71 L347.98 169.75 L347.14 170.74 L347.1 170.78 L347.07 170.83 L346.4 171.94 L346.37 171.99 L346.34 172.04 L345.85 173.24 L345.83 173.29 L345.81 173.35 L341.12 187.79 L341.1 187.84 L341.08 187.9 L340.78 189.16 L340.77 189.22 L340.76 189.27 L340.66 190.56 L340.66 190.62 L340.66 190.68 L340.76 191.97 L340.77 192.03 L340.78 192.09 L341.08 193.35 L341.1 193.4 L341.12 193.46 L341.61 194.65 L341.64 194.71 L341.67 194.76 L342.34 195.86 L342.38 195.91 L342.41 195.96 L343.25 196.94 L343.29 196.99 L343.34 197.03 L344.32 197.87 L344.37 197.9 L344.42 197.94 L345.52 198.61 L345.57 198.64 L345.62 198.66 L346.82 199.16 L346.88 199.18 L346.93 199.2 L367.29 205.82 Z" fill="none" stroke="#333" stroke-width="0.8" stroke-dasharray="3.2,2"/>
<path d="M476.69 206.91 L476.68 206.61 L476.67 206.31 L476.66 206.02 L476.64 205.72 L476.63 205.42 L476.61 205.13 L476.59 204.83 L476.57 204.53 L476.55 204.24 L476.52 203.94 L476.49 203.64 L476.47 203.35 L476.44 203.05 L476.4 202.75 L476.37 202.46 L476.34 202.16 L476.3 201.87 L476.26 201.57 L476.22 201.28 L476.18 200.98 L476.13 200.69 L476.08 200.4 L476.04 200.1 L475.99 199.81 L475.93 199.52 L475.88 199.22 L475.83 198.93 L475.77 198.64 L475.71 198.35 L475.65 198.06 L475.59 197.76 L475.52 197.47 L475.46 197.18 L475.39 196.89 L475.32 196.6 L475.25 196.32 L475.17 196.03 L475.1 195.74 L475.02 195.45 L474.94 195.16 L474.86 194.88 L474.78 194.59 L474.7 194.31 L474.61 194.02 L474.52 193.74 L474.44 193.45 L474.34 193.17 L474.25 192.89 L474.16 192.6 L474.06 192.32 L473.96 192.04 L473.86 191.76 L473.76 191.48 L473.66 191.2 L473.56 190.92 L473.45 190.65 L473.34 190.37 L473.23 190.09 L473.12 189.82 L473.01 189.54 L472.89 189.27 L472.78 188.99 L472.66 188.72 L472.54 188.45 L472.42 188.17 L472.29 187.9 L472.17 187.63 L472.04 187.36 L471.92 187.09 L471.79 186.83 L471.65 186.56 L471.52 186.29 L471.39 186.03 L471.25 185.76 L471.11 185.5 L470.97 185.24 L470.83 184.98 L470.69 184.71 L470.55 184.45 L470.4 184.19 L470.25 183.94 L470.1 183.68 L469.95 183.42 L469.8 183.17 L469.65 182.91 L469.49 182.66 L469.33 182.4 L469.18 182.15 L469.02 181.9 L468.85 181.65 L468.69 181.4 L468.53 181.15 L468.36 180.91 L468.19 180.66 L468.02 180.42 L467.85 180.17 L467.68 179.93 L467.51 179.69 L467.33 179.45 L467.16 179.21 L466.98 178.97 L466.8 178.73 L466.62 178.5 L466.43 178.26 L466.25 178.03 L466.07 177.79 L465.88 177.56 L465.69 177.33 L465.5 177.1 L465.31 176.87 L465.12 176.65 L464.92 176.42 L464.73 176.2 L464.53 175.97 L464.34 175.75 L464.22 175.62 L464.23 175.72 L464.25 175.89 L464.27 176.06 L464.29 176.23 L464.31 176.4 L464.32 176.57 L464.33 176.74 L464.34 176.91 L464.35 177.08 L464.36 177.26 L464.36 177.43 L464.36 177.6 L464.36 177.77 L464.36 177.94 L464.35 178.12 L464.34 178.29 L464.33 178.46 L464.32 178.63 L464.31 178.8 L464.29 178.97 L464.27 179.14 L464.25 179.31 L464.23 179.48 L464.21 179.65 L464.18 179.82 L464.15 179.99 L464.12 180.16 L464.09 180.33 L464.06 180.5 L464.02 180.67 L463.98 180.83 L463.94 181 L463.9 181.17 L463.85 181.33 L463.81 181.5 L463.76 181.66 L463.71 181.83 L463.65 181.99 L463.6 182.15 L463.54 182.32 L463.48 182.48 L463.42 182.64 L463.36 182.8 L463.29 182.96 L463.23 183.12 L463.16 183.27 L463.09 183.43 L463.02 183.59 L462.94 183.74 L462.86 183.89 L462.79 184.05 L462.71 184.2 L462.62 184.35 L462.54 184.5 L462.46 184.65 L462.37 184.8 L462.28 184.94 L462.19 185.09 L462.09 185.23 L462 185.38 L461.9 185.52 L461.81 185.66 L461.71 185.8 L461.6 185.94 L461.5 186.08 L461.4 186.21 L461.29 186.35 L461.18 186.48 L461.07 186.61 L460.96 186.74 L460.85 186.87 L460.73 187 L460.62 187.13 L460.5 187.25 L460.38 187.38 L460.26 187.5 L460.14 187.62 L460.01 187.74 L459.89 187.86 L459.76 187.97 L459.63 188.09 L459.5 188.2 L459.37 188.31 L459.24 188.42 L459.11 188.53 L458.97 188.64 L458.84 188.74 L458.7 188.84 L458.56 188.95 L458.42 189.05 L458.28 189.14 L458.14 189.24 L457.99 189.34 L457.85 189.43 L457.7 189.52 L457.56 189.61 L457.41 189.7 L457.26 189.78 L457.11 189.87 L456.96 189.95 L456.81 190.03 L456.65 190.11 L456.5 190.18 L456.35 190.26 L456.19 190.33 L456.03 190.4 L455.88 190.47 L455.72 190.53 L455.56 190.6 L455.4 190.66 L455.24 190.72 L455.08 190.78 L454.91 190.84 L454.75 190.89 L454.59 190.95 L454.42 191 L454.26 191.05 L454.09 191.09 L453.93 191.14 L453.76 191.18 L453.59 191.22 L453.43 191.26 L453.26 191.3 L453.09 191.33 L452.92 191.36 L452.75 191.39 L452.58 191.42 L452.41 191.45 L452.24 191.47 L452.07 191.49 L451.9 191.51 L451.73 191.53 L451.56 191.55 L451.39 191.56 L451.22 191.57 L451.05 191.58 L450.87 191.59 L450.7 191.6 L450.53 191.6 L450.36 191.6 L450.19 191.6 L450.02 191.6 L449.84 191.59 L449.67 191.58 L449.5 191.57 L449.33 191.56 L449.16 191.55 L448.99 191.53 L448.82 191.51 L448.65 191.49 L448.48 191.47 L448.31 191.45 L448.14 191.42 L447.97 191.39 L447.8 191.36 L447.63 191.33 L447.46 191.3 L447.29 191.26 L447.12 191.22 L446.96 191.18 L446.79 191.14 L446.63 191.09 L446.46 191.05 L446.3 191 L446.13 190.95 L445.97 190.89 L445.81 190.84 L445.64 190.78 L445.48 190.72 L445.32 190.66 L445.16 190.6 L445 190.53 L444.84 190.47 L444.69 190.4 L444.53 190.33 L444.37 190.26 L444.22 190.18 L444.06 190.11 L443.91 190.03 L443.76 189.95 L443.61 189.87 L443.46 189.78 L443.31 189.7 L443.16 189.61 L443.02 189.52 L442.87 189.43 L442.72 189.34 L442.58 189.24 L442.44 189.14 L442.3 189.05 L442.16 188.95 L442.02 188.84 L441.88 188.74 L441.75 188.64 L441.61 188.53 L441.48 188.42 L441.35 188.31 L441.22 188.2 L441.09 188.09 L440.96 187.97 L440.83 187.86 L440.71 187.74 L440.58 187.62 L440.46 187.5 L440.34 187.38 L440.22 187.25 L440.1 187.13 L439.99 187 L439.87 186.87 L439.76 186.74 L439.65 186.61 L439.54 186.48 L439.43 186.35 L439.32 186.21 L439.22 186.08 L439.11 185.94 L439.01 185.8 L438.91 185.66 L438.82 185.52 L438.72 185.38 L438.62 185.23 L438.53 185.09 L438.44 184.94 L438.35 184.8 L438.26 184.65 L438.18 184.5 L438.09 184.35 L438.01 184.2 L437.93 184.05 L437.85 183.89 L437.78 183.74 L437.7 183.59 L437.63 183.43 L437.56 183.27 L437.49 183.12 L437.43 182.96 L437.36 182.8 L437.3 182.64 L437.24 182.48 L437.18 182.32 L437.12 182.15 L437.07 181.99 L437.01 181.83 L436.96 181.66 L436.91 181.5 L436.87 181.33 L436.82 181.17 L436.78 181 L436.74 180.83 L436.7 180.67 L436.66 180.5 L436.63 180.33 L436.6 180.16 L436.57 179.99 L436.54 179.82 L436.51 179.65 L436.49 179.48 L436.46 179.31 L436.44 179.14 L436.43 178.97 L436.41 178.8 L436.4 178.63 L436.39 178.46 L436.38 178.29 L436.37 178.12 L436.36 177.94 L436.36 177.77 L436.36 177.6 L436.36 177.43 L436.36 177.26 L436.37 177.08 L436.38 176.91 L436.39 176.74 L436.4 176.57 L436.41 176.4 L436.43 176.23 L436.44 176.06 L436.46 175.89 L436.49 175.72 L436.51 175.55 L436.54 175.38 L436.57 175.21 L436.6 175.04 L436.63 174.87 L436.66 174.7 L436.7 174.53 L436.74 174.37 L436.78 174.2 L436.82 174.03 L436.87 173.87 L436.91 173.7 L436.96 173.54 L437.01 173.37 L437.07 173.21 L437.12 173.05 L437.18 172.88 L437.24 172.72 L437.3 172.56 L437.36 172.4 L437.43 172.24 L437.49 172.08 L437.56 171.93 L437.63 171.77 L437.7 171.61 L437.78 171.46 L437.85 171.31 L437.93 171.15 L438.01 171 L438.09 170.85 L438.18 170.7 L438.26 170.55 L438.35 170.4 L438.44 170.26 L438.53 170.11 L438.62 169.97 L438.72 169.82 L438.82 169.68 L438.91 169.54 L439.01 169.4 L439.11 169.26 L439.22 169.12 L439.32 168.99 L439.43 168.85 L439.54 168.72 L439.65 168.59 L439.76 168.46 L439.87 168.33 L439.99 168.2 L440.1 168.07 L440.22 167.95 L440.34 167.82 L440.46 167.7 L440.58 167.58 L440.71 167.46 L440.83 167.34 L440.96 167.23 L441.09 167.11 L441.22 167 L441.35 166.89 L441.48 166.78 L441.61 166.67 L441.75 166.56 L441.88 166.46 L442.02 166.36 L442.16 166.25 L442.3 166.15 L442.44 166.06 L442.58 165.96 L442.72 165.86 L442.87 165.77 L443.02 165.68 L443.16 165.59 L443.31 165.5 L443.46 165.42 L443.61 165.34 L443.76 165.25 L443.91 165.17 L444.06 165.09 L444.22 165.02 L444.37 164.94 L444.53 164.87 L444.69 164.8 L444.84 164.73 L445 164.67 L445.16 164.6 L445.32 164.54 L445.48 164.48 L445.64 164.42 L445.81 164.36 L445.97 164.31 L446.13 164.25 L446.3 164.2 L446.46 164.15 L446.63 164.11 L446.79 164.06 L446.96 164.02 L447.12 163.98 L447.29 163.94 L447.46 163.9 L447.63 163.87 L447.8 163.84 L447.96 163.81 L447.85 163.76 L447.58 163.64 L447.31 163.52 L447.03 163.41 L446.76 163.29 L446.48 163.18 L446.21 163.07 L445.93 162.96 L445.65 162.85 L445.38 162.74 L445.1 162.64 L444.82 162.54 L444.54 162.44 L444.26 162.34 L443.98 162.24 L443.7 162.14 L443.41 162.05 L443.13 161.96 L442.85 161.86 L442.56 161.78 L442.28 161.69 L441.99 161.6 L441.71 161.52 L441.42 161.44 L441.14 161.36 L440.85 161.28 L440.56 161.2 L440.27 161.13 L439.98 161.05 L439.7 160.98 L439.41 160.91 L439.12 160.84 L438.83 160.78 L438.54 160.71 L438.24 160.65 L437.95 160.59 L437.66 160.53 L437.37 160.47 L437.08 160.42 L436.78 160.37 L436.49 160.31 L436.2 160.26 L435.9 160.22 L435.61 160.17 L435.32 160.12 L435.02 160.08 L434.73 160.04 L434.43 160 L434.14 159.96 L433.84 159.93 L433.55 159.9 L433.25 159.86 L432.95 159.83 L432.66 159.81 L432.36 159.78 L432.06 159.75 L431.77 159.73 L431.47 159.71 L431.17 159.69 L430.88 159.67 L430.58 159.66 L430.28 159.64 L429.99 159.63 L429.69 159.62 L429.39 159.61 L429.09 159.61 L428.8 159.6 L428.5 159.6 L428.2 159.6 L427.9 159.6 L427.6 159.6 L427.31 159.61 L427.01 159.61 L426.71 159.62 L426.41 159.63 L426.12 159.64 L425.82 159.66 L425.52 159.67 L425.23 159.69 L424.93 159.71 L424.63 159.73 L424.34 159.75 L424.04 159.78 L423.74 159.81 L423.45 159.83 L423.15 159.86 L422.85 159.9 L422.56 159.93 L422.26 159.96 L421.97 160 L421.67 160.04 L421.38 160.08 L421.08 160.12 L420.79 160.17 L420.5 160.22 L420.2 160.26 L419.91 160.31 L419.62 160.37 L419.32 160.42 L419.03 160.47 L418.74 160.53 L418.45 160.59 L418.16 160.65 L417.86 160.71 L417.57 160.78 L417.28 160.84 L416.99 160.91 L416.7 160.98 L416.42 161.05 L416.13 161.13 L415.84 161.2 L415.55 161.28 L415.26 161.36 L414.98 161.44 L414.69 161.52 L414.41 161.6 L414.12 161.69 L413.84 161.78 L413.55 161.86 L413.27 161.96 L412.99 162.05 L412.7 162.14 L412.42 162.24 L412.14 162.34 L411.86 162.44 L411.58 162.54 L411.3 162.64 L411.02 162.74 L410.75 162.85 L410.47 162.96 L410.19 163.07 L409.92 163.18 L409.64 163.29 L409.37 163.41 L409.09 163.52 L408.82 163.64 L408.55 163.76 L408.27 163.88 L408 164.01 L407.73 164.13 L407.46 164.26 L407.19 164.38 L406.93 164.51 L406.66 164.65 L406.39 164.78 L406.13 164.91 L405.86 165.05 L405.6 165.19 L405.34 165.33 L405.08 165.47 L404.81 165.61 L404.55 165.75 L404.29 165.9 L404.04 166.05 L403.78 166.2 L403.52 166.35 L403.27 166.5 L403.01 166.65 L402.76 166.81 L402.5 166.97 L402.25 167.12 L402 167.28 L401.75 167.45 L401.5 167.61 L401.25 167.77 L401.01 167.94 L400.76 168.11 L400.52 168.28 L400.27 168.45 L400.03 168.62 L399.79 168.79 L399.55 168.97 L399.31 169.14 L399.07 169.32 L398.83 169.5 L398.6 169.68 L398.36 169.87 L398.13 170.05 L397.89 170.23 L397.66 170.42 L397.43 170.61 L397.2 170.8 L396.97 170.99 L396.75 171.18 L396.52 171.38 L396.3 171.57 L396.07 171.77 L395.85 171.96 L395.72 172.08 L395.82 172.07 L395.99 172.05 L396.16 172.03 L396.33 172.01 L396.5 171.99 L396.67 171.98 L396.84 171.97 L397.01 171.96 L397.18 171.95 L397.36 171.94 L397.53 171.94 L397.7 171.94 L397.87 171.94 L398.04 171.94 L398.22 171.95 L398.39 171.96 L398.56 171.97 L398.73 171.98 L398.9 171.99 L399.07 172.01 L399.24 172.03 L399.41 172.05 L399.58 172.07 L399.75 172.09 L399.92 172.12 L400.09 172.15 L400.26 172.18 L400.43 172.21 L400.6 172.24 L400.77 172.28 L400.93 172.32 L401.1 172.36 L401.27 172.4 L401.43 172.45 L401.6 172.49 L401.76 172.54 L401.93 172.59 L402.09 172.65 L402.25 172.7 L402.42 172.76 L402.58 172.82 L402.74 172.88 L402.9 172.94 L403.06 173.01 L403.22 173.07 L403.37 173.14 L403.53 173.21 L403.69 173.28 L403.84 173.36 L403.99 173.44 L404.15 173.51 L404.3 173.59 L404.45 173.68 L404.6 173.76 L404.75 173.84 L404.9 173.93 L405.04 174.02 L405.19 174.11 L405.33 174.21 L405.48 174.3 L405.62 174.4 L405.76 174.49 L405.9 174.59 L406.04 174.7 L406.18 174.8 L406.31 174.9 L406.45 175.01 L406.58 175.12 L406.71 175.23 L406.84 175.34 L406.97 175.45 L407.1 175.57 L407.23 175.68 L407.35 175.8 L407.48 175.92 L407.6 176.04 L407.72 176.16 L407.84 176.29 L407.96 176.41 L408.07 176.54 L408.19 176.67 L408.3 176.8 L408.41 176.93 L408.52 177.06 L408.63 177.19 L408.74 177.33 L408.84 177.46 L408.94 177.6 L409.05 177.74 L409.15 177.88 L409.24 178.02 L409.34 178.16 L409.44 178.31 L409.53 178.45 L409.62 178.6 L409.71 178.74 L409.8 178.89 L409.88 179.04 L409.97 179.19 L410.05 179.34 L410.13 179.49 L410.21 179.65 L410.28 179.8 L410.36 179.95 L410.43 180.11 L410.5 180.27 L410.57 180.42 L410.63 180.58 L410.7 180.74 L410.76 180.9 L410.82 181.06 L410.88 181.22 L410.94 181.39 L410.99 181.55 L411.05 181.71 L411.1 181.88 L411.15 182.04 L411.19 182.21 L411.24 182.37 L411.28 182.54 L411.32 182.71 L411.36 182.87 L411.4 183.04 L411.43 183.21 L411.46 183.38 L411.49 183.55 L411.52 183.72 L411.55 183.89 L411.57 184.06 L411.59 184.23 L411.61 184.4 L411.63 184.57 L411.65 184.74 L411.66 184.91 L411.67 185.08 L411.68 185.25 L411.69 185.43 L411.7 185.6 L411.7 185.77 L411.7 185.94 L411.7 186.11 L411.7 186.28 L411.69 186.46 L411.68 186.63 L411.67 186.8 L411.66 186.97 L411.65 187.14 L411.63 187.31 L411.61 187.48 L411.59 187.65 L411.57 187.82 L411.55 187.99 L411.52 188.16 L411.49 188.33 L411.46 188.5 L411.43 188.67 L411.4 188.84 L411.36 189.01 L411.32 189.18 L411.28 189.34 L411.24 189.51 L411.19 189.67 L411.15 189.84 L411.1 190 L411.05 190.17 L410.99 190.33 L410.94 190.49 L410.88 190.66 L410.82 190.82 L410.76 190.98 L410.7 191.14 L410.63 191.3 L410.57 191.46 L410.5 191.61 L410.43 191.77 L410.36 191.93 L410.28 192.08 L410.21 192.24 L410.13 192.39 L410.05 192.54 L409.97 192.69 L409.88 192.84 L409.8 192.99 L409.71 193.14 L409.62 193.28 L409.53 193.43 L409.44 193.58 L409.34 193.72 L409.24 193.86 L409.15 194 L409.05 194.14 L408.94 194.28 L408.84 194.42 L408.74 194.55 L408.63 194.69 L408.52 194.82 L408.41 194.95 L408.3 195.08 L408.19 195.21 L408.07 195.34 L407.96 195.47 L407.84 195.59 L407.72 195.72 L407.6 195.84 L407.48 195.96 L407.35 196.08 L407.23 196.2 L407.1 196.31 L406.97 196.43 L406.84 196.54 L406.71 196.65 L406.58 196.76 L406.45 196.87 L406.31 196.98 L406.18 197.08 L406.04 197.19 L405.9 197.29 L405.76 197.39 L405.62 197.48 L405.48 197.58 L405.33 197.68 L405.19 197.77 L405.04 197.86 L404.9 197.95 L404.75 198.04 L404.6 198.12 L404.45 198.21 L404.3 198.29 L404.15 198.37 L403.99 198.45 L403.84 198.52 L403.69 198.6 L403.53 198.67 L403.37 198.74 L403.22 198.81 L403.06 198.87 L402.9 198.94 L402.74 199 L402.58 199.06 L402.42 199.12 L402.25 199.18 L402.09 199.23 L401.93 199.29 L401.76 199.34 L401.6 199.39 L401.43 199.43 L401.27 199.48 L401.1 199.52 L400.93 199.56 L400.77 199.6 L400.6 199.64 L400.43 199.67 L400.26 199.7 L400.09 199.73 L399.92 199.76 L399.75 199.79 L399.58 199.81 L399.41 199.84 L399.24 199.86 L399.07 199.87 L398.9 199.89 L398.73 199.9 L398.56 199.91 L398.39 199.92 L398.22 199.93 L398.04 199.94 L397.87 199.94 L397.7 199.94 L397.53 199.94 L397.36 199.94 L397.18 199.93 L397.01 199.92 L396.84 199.91 L396.67 199.9 L396.5 199.89 L396.33 199.87 L396.16 199.86 L395.99 199.84 L395.82 199.81 L395.65 199.79 L395.48 199.76 L395.31 199.73 L395.14 199.7 L394.97 199.67 L394.8 199.64 L394.63 199.6 L394.47 199.56 L394.3 199.52 L394.13 199.48 L393.97 199.43 L393.8 199.39 L393.64 199.34 L393.47 199.29 L393.31 199.23 L393.15 199.18 L392.98 199.12 L392.82 199.06 L392.66 199 L392.5 198.94 L392.34 198.87 L392.18 198.81 L392.03 198.74 L391.87 198.67 L391.71 198.6 L391.56 198.52 L391.41 198.45 L391.25 198.37 L391.1 198.29 L390.95 198.21 L390.8 198.12 L390.65 198.04 L390.5 197.95 L390.36 197.86 L390.21 197.77 L390.07 197.68 L389.92 197.58 L389.78 197.48 L389.64 197.39 L389.5 197.29 L389.36 197.19 L389.22 197.08 L389.09 196.98 L388.95 196.87 L388.82 196.76 L388.69 196.65 L388.56 196.54 L388.43 196.43 L388.3 196.31 L388.17 196.2 L388.05 196.08 L387.92 195.96 L387.8 195.84 L387.68 195.72 L387.56 195.59 L387.44 195.47 L387.33 195.34 L387.21 195.21 L387.1 195.08 L386.99 194.95 L386.88 194.82 L386.77 194.69 L386.66 194.55 L386.56 194.42 L386.46 194.28 L386.35 194.14 L386.25 194 L386.16 193.86 L386.06 193.72 L385.96 193.58 L385.87 193.43 L385.78 193.28 L385.69 193.14 L385.6 192.99 L385.52 192.84 L385.44 192.69 L385.35 192.54 L385.27 192.39 L385.19 192.24 L385.12 192.08 L385.04 191.93 L384.97 191.77 L384.9 191.61 L384.83 191.46 L384.77 191.3 L384.7 191.14 L384.64 190.98 L384.58 190.82 L384.52 190.66 L384.46 190.49 L384.41 190.33 L384.35 190.17 L384.3 190 L384.25 189.84 L384.21 189.67 L384.16 189.51 L384.12 189.34 L384.08 189.18 L384.04 189.01 L384 188.84 L383.97 188.67 L383.94 188.5 L383.91 188.34 L383.86 188.45 L383.74 188.72 L383.62 188.99 L383.51 189.27 L383.39 189.54 L383.28 189.82 L383.17 190.09 L383.06 190.37 L382.95 190.65 L382.84 190.92 L382.74 191.2 L382.64 191.48 L382.54 191.76 L382.44 192.04 L382.34 192.32 L382.24 192.6 L382.15 192.89 L382.06 193.17 L381.96 193.45 L381.88 193.74 L381.79 194.02 L381.7 194.31 L381.62 194.59 L381.54 194.88 L381.46 195.16 L381.38 195.45 L381.3 195.74 L381.23 196.03 L381.15 196.32 L381.08 196.6 L381.01 196.89 L380.94 197.18 L380.88 197.47 L380.81 197.76 L380.75 198.06 L380.69 198.35 L380.63 198.64 L380.57 198.93 L380.52 199.22 L380.47 199.52 L380.41 199.81 L380.36 200.1 L380.32 200.4 L380.27 200.69 L380.22 200.98 L380.18 201.28 L380.14 201.57 L380.1 201.87 L380.06 202.16 L380.03 202.46 L380 202.75 L379.96 203.05 L379.93 203.35 L379.91 203.64 L379.88 203.94 L379.85 204.24 L379.83 204.53 L379.81 204.83 L379.79 205.13 L379.77 205.42 L379.76 205.72 L379.74 206.02 L379.73 206.31 L379.72 206.61 L379.71 206.91 L379.71 207.21 L379.7 207.5 L379.7 207.8 L379.7 208.1 L379.7 208.4 L379.7 208.7 L379.71 208.99 L379.71 209.29 L379.72 209.59 L379.73 209.89 L379.74 210.18 L379.76 210.48 L379.77 210.78 L379.79 211.07 L379.81 211.37 L379.83 211.67 L379.85 211.96 L379.88 212.26 L379.91 212.56 L379.93 212.85 L379.96 213.15 L380 213.45 L380.03 213.74 L380.06 214.04 L380.1 214.33 L380.14 214.63 L380.18 214.92 L380.22 215.22 L380.27 215.51 L380.32 215.8 L380.36 216.1 L380.41 216.39 L380.47 216.68 L380.52 216.98 L380.57 217.27 L380.63 217.56 L380.69 217.85 L380.75 218.14 L380.81 218.44 L380.88 218.73 L380.94 219.02 L381.01 219.31 L381.08 219.6 L381.15 219.88 L381.23 220.17 L381.3 220.46 L381.38 220.75 L381.46 221.04 L381.54 221.32 L381.62 221.61 L381.7 221.89 L381.79 222.18 L381.88 222.46 L381.96 222.75 L382.06 223.03 L382.15 223.31 L382.24 223.6 L382.34 223.88 L382.44 224.16 L382.54 224.44 L382.64 224.72 L382.74 225 L382.84 225.28 L382.95 225.55 L383.06 225.83 L383.17 226.11 L383.28 226.38 L383.39 226.66 L383.51 226.93 L383.62 227.21 L383.74 227.48 L383.86 227.75 L383.98 228.03 L384.11 228.3 L384.23 228.57 L384.36 228.84 L384.48 229.11 L384.61 229.37 L384.75 229.64 L384.88 229.91 L385.01 230.17 L385.15 230.44 L385.29 230.7 L385.43 230.96 L385.57 231.22 L385.71 231.49 L385.85 231.75 L386 232.01 L386.15 232.26 L386.3 232.52 L386.45 232.78 L386.6 233.03 L386.75 233.29 L386.91 233.54 L387.07 233.8 L387.22 234.05 L387.38 234.3 L387.55 234.55 L387.71 234.8 L387.87 235.05 L388.04 235.29 L388.21 235.54 L388.38 235.78 L388.55 236.03 L388.72 236.27 L388.89 236.51 L389.07 236.75 L389.24 236.99 L389.42 237.23 L389.6 237.47 L389.78 237.7 L389.97 237.94 L390.15 238.17 L390.33 238.41 L390.52 238.64 L390.71 238.87 L390.9 239.1 L391.09 239.33 L391.28 239.55 L391.48 239.78 L391.67 240 L391.87 240.23 L392.06 240.45 L392.18 240.58 L392.17 240.48 L392.15 240.31 L392.13 240.14 L392.11 239.97 L392.09 239.8 L392.08 239.63 L392.07 239.46 L392.06 239.29 L392.05 239.12 L392.04 238.94 L392.04 238.77 L392.04 238.6 L392.04 238.43 L392.04 238.26 L392.05 238.08 L392.06 237.91 L392.07 237.74 L392.08 237.57 L392.09 237.4 L392.11 237.23 L392.13 237.06 L392.15 236.89 L392.17 236.72 L392.19 236.55 L392.22 236.38 L392.25 236.21 L392.28 236.04 L392.31 235.87 L392.34 235.7 L392.38 235.53 L392.42 235.37 L392.46 235.2 L392.5 235.03 L392.55 234.87 L392.59 234.7 L392.64 234.54 L392.69 234.37 L392.75 234.21 L392.8 234.05 L392.86 233.88 L392.92 233.72 L392.98 233.56 L393.04 233.4 L393.11 233.24 L393.17 233.08 L393.24 232.93 L393.31 232.77 L393.38 232.61 L393.46 232.46 L393.54 232.31 L393.61 232.15 L393.69 232 L393.78 231.85 L393.86 231.7 L393.94 231.55 L394.03 231.4 L394.12 231.26 L394.21 231.11 L394.31 230.97 L394.4 230.82 L394.5 230.68 L394.59 230.54 L394.69 230.4 L394.8 230.26 L394.9 230.12 L395 229.99 L395.11 229.85 L395.22 229.72 L395.33 229.59 L395.44 229.46 L395.55 229.33 L395.67 229.2 L395.78 229.07 L395.9 228.95 L396.02 228.82 L396.14 228.7 L396.26 228.58 L396.39 228.46 L396.51 228.34 L396.64 228.23 L396.77 228.11 L396.9 228 L397.03 227.89 L397.16 227.78 L397.29 227.67 L397.43 227.56 L397.56 227.46 L397.7 227.36 L397.84 227.25 L397.98 227.15 L398.12 227.06 L398.26 226.96 L398.41 226.86 L398.55 226.77 L398.7 226.68 L398.84 226.59 L398.99 226.5 L399.14 226.42 L399.29 226.33 L399.44 226.25 L399.59 226.17 L399.75 226.09 L399.9 226.02 L400.05 225.94 L400.21 225.87 L400.37 225.8 L400.52 225.73 L400.68 225.67 L400.84 225.6 L401 225.54 L401.16 225.48 L401.32 225.42 L401.49 225.36 L401.65 225.31 L401.81 225.25 L401.98 225.2 L402.14 225.15 L402.31 225.11 L402.47 225.06 L402.64 225.02 L402.81 224.98 L402.97 224.94 L403.14 224.9 L403.31 224.87 L403.48 224.84 L403.65 224.81 L403.82 224.78 L403.99 224.75 L404.16 224.73 L404.33 224.71 L404.5 224.69 L404.67 224.67 L404.84 224.65 L405.01 224.64 L405.18 224.63 L405.35 224.62 L405.53 224.61 L405.7 224.6 L405.87 224.6 L406.04 224.6 L406.21 224.6 L406.38 224.6 L406.56 224.61 L406.73 224.62 L406.9 224.63 L407.07 224.64 L407.24 224.65 L407.41 224.67 L407.58 224.69 L407.75 224.71 L407.92 224.73 L408.09 224.75 L408.26 224.78 L408.43 224.81 L408.6 224.84 L408.77 224.87 L408.94 224.9 L409.11 224.94 L409.28 224.98 L409.44 225.02 L409.61 225.06 L409.77 225.11 L409.94 225.15 L410.1 225.2 L410.27 225.25 L410.43 225.31 L410.59 225.36 L410.76 225.42 L410.92 225.48 L411.08 225.54 L411.24 225.6 L411.4 225.67 L411.56 225.73 L411.71 225.8 L411.87 225.87 L412.03 225.94 L412.18 226.02 L412.34 226.09 L412.49 226.17 L412.64 226.25 L412.79 226.33 L412.94 226.42 L413.09 226.5 L413.24 226.59 L413.38 226.68 L413.53 226.77 L413.68 226.86 L413.82 226.96 L413.96 227.06 L414.1 227.15 L414.24 227.25 L414.38 227.36 L414.52 227.46 L414.65 227.56 L414.79 227.67 L414.92 227.78 L415.05 227.89 L415.18 228 L415.31 228.11 L415.44 228.23 L415.57 228.34 L415.69 228.46 L415.82 228.58 L415.94 228.7 L416.06 228.82 L416.18 228.95 L416.3 229.07 L416.41 229.2 L416.53 229.33 L416.64 229.46 L416.75 229.59 L416.86 229.72 L416.97 229.85 L417.08 229.99 L417.18 230.12 L417.29 230.26 L417.39 230.4 L417.49 230.54 L417.58 230.68 L417.68 230.82 L417.78 230.97 L417.87 231.11 L417.96 231.26 L418.05 231.4 L418.14 231.55 L418.22 231.7 L418.31 231.85 L418.39 232 L418.47 232.15 L418.55 232.31 L418.62 232.46 L418.7 232.61 L418.77 232.77 L418.84 232.93 L418.91 233.08 L418.97 233.24 L419.04 233.4 L419.1 233.56 L419.16 233.72 L419.22 233.88 L419.28 234.05 L419.33 234.21 L419.39 234.37 L419.44 234.54 L419.49 234.7 L419.53 234.87 L419.58 235.03 L419.62 235.2 L419.66 235.37 L419.7 235.53 L419.74 235.7 L419.77 235.87 L419.8 236.04 L419.83 236.21 L419.86 236.38 L419.89 236.55 L419.91 236.72 L419.94 236.89 L419.96 237.06 L419.97 237.23 L419.99 237.4 L420 237.57 L420.01 237.74 L420.02 237.91 L420.03 238.08 L420.04 238.26 L420.04 238.43 L420.04 238.6 L420.04 238.77 L420.04 238.94 L420.03 239.12 L420.02 239.29 L420.01 239.46 L420 239.63 L419.99 239.8 L419.97 239.97 L419.96 240.14 L419.94 240.31 L419.91 240.48 L419.89 240.65 L419.86 240.82 L419.83 240.99 L419.8 241.16 L419.77 241.33 L419.74 241.5 L419.7 241.67 L419.66 241.83 L419.62 242 L419.58 242.17 L419.53 242.33 L419.49 242.5 L419.44 242.66 L419.39 242.83 L419.33 242.99 L419.28 243.15 L419.22 243.32 L419.16 243.48 L419.1 243.64 L419.04 243.8 L418.97 243.96 L418.91 244.12 L418.84 244.27 L418.77 244.43 L418.7 244.59 L418.62 244.74 L418.55 244.89 L418.47 245.05 L418.39 245.2 L418.31 245.35 L418.22 245.5 L418.14 245.65 L418.05 245.8 L417.96 245.94 L417.87 246.09 L417.78 246.23 L417.68 246.38 L417.58 246.52 L417.49 246.66 L417.39 246.8 L417.29 246.94 L417.18 247.08 L417.08 247.21 L416.97 247.35 L416.86 247.48 L416.75 247.61 L416.64 247.74 L416.53 247.87 L416.41 248 L416.3 248.13 L416.18 248.25 L416.06 248.38 L415.94 248.5 L415.82 248.62 L415.69 248.74 L415.57 248.86 L415.44 248.97 L415.31 249.09 L415.18 249.2 L415.05 249.31 L414.92 249.42 L414.79 249.53 L414.65 249.64 L414.52 249.74 L414.38 249.84 L414.24 249.95 L414.1 250.05 L413.96 250.14 L413.82 250.24 L413.68 250.34 L413.53 250.43 L413.38 250.52 L413.24 250.61 L413.09 250.7 L412.94 250.78 L412.79 250.86 L412.64 250.95 L412.49 251.03 L412.34 251.11 L412.18 251.18 L412.03 251.26 L411.87 251.33 L411.71 251.4 L411.56 251.47 L411.4 251.53 L411.24 251.6 L411.08 251.66 L410.92 251.72 L410.76 251.78 L410.59 251.84 L410.43 251.89 L410.27 251.95 L410.1 252 L409.94 252.05 L409.77 252.09 L409.61 252.14 L409.44 252.18 L409.28 252.22 L409.11 252.26 L408.94 252.3 L408.77 252.33 L408.6 252.36 L408.44 252.39 L408.55 252.44 L408.82 252.56 L409.09 252.68 L409.37 252.79 L409.64 252.91 L409.92 253.02 L410.19 253.13 L410.47 253.24 L410.75 253.35 L411.02 253.46 L411.3 253.56 L411.58 253.66 L411.86 253.76 L412.14 253.86 L412.42 253.96 L412.7 254.06 L412.99 254.15 L413.27 254.24 L413.55 254.34 L413.84 254.42 L414.12 254.51 L414.41 254.6 L414.69 254.68 L414.98 254.76 L415.26 254.84 L415.55 254.92 L415.84 255 L416.13 255.07 L416.42 255.15 L416.7 255.22 L416.99 255.29 L417.28 255.36 L417.57 255.42 L417.86 255.49 L418.16 255.55 L418.45 255.61 L418.74 255.67 L419.03 255.73 L419.32 255.78 L419.62 255.83 L419.91 255.89 L420.2 255.94 L420.5 255.98 L420.79 256.03 L421.08 256.08 L421.38 256.12 L421.67 256.16 L421.97 256.2 L422.26 256.24 L422.56 256.27 L422.85 256.3 L423.15 256.34 L423.45 256.37 L423.74 256.39 L424.04 256.42 L424.34 256.45 L424.63 256.47 L424.93 256.49 L425.23 256.51 L425.52 256.53 L425.82 256.54 L426.12 256.56 L426.41 256.57 L426.71 256.58 L427.01 256.59 L427.31 256.59 L427.6 256.6 L427.9 256.6 L428.2 256.6 L428.5 256.6 L428.8 256.6 L429.09 256.59 L429.39 256.59 L429.69 256.58 L429.99 256.57 L430.28 256.56 L430.58 256.54 L430.88 256.53 L431.17 256.51 L431.47 256.49 L431.77 256.47 L432.06 256.45 L432.36 256.42 L432.66 256.39 L432.95 256.37 L433.25 256.34 L433.55 256.3 L433.84 256.27 L434.14 256.24 L434.43 256.2 L434.73 256.16 L435.02 256.12 L435.32 256.08 L435.61 256.03 L435.9 255.98 L436.2 255.94 L436.49 255.89 L436.78 255.83 L437.08 255.78 L437.37 255.73 L437.66 255.67 L437.95 255.61 L438.24 255.55 L438.54 255.49 L438.83 255.42 L439.12 255.36 L439.41 255.29 L439.7 255.22 L439.98 255.15 L440.27 255.07 L440.56 255 L440.85 254.92 L441.14 254.84 L441.42 254.76 L441.71 254.68 L441.99 254.6 L442.28 254.51 L442.56 254.42 L442.85 254.34 L443.13 254.24 L443.41 254.15 L443.7 254.06 L443.98 253.96 L444.26 253.86 L444.54 253.76 L444.82 253.66 L445.1 253.56 L445.38 253.46 L445.65 253.35 L445.93 253.24 L446.21 253.13 L446.48 253.02 L446.76 252.91 L447.03 252.79 L447.31 252.68 L447.58 252.56 L447.85 252.44 L448.13 252.32 L448.4 252.19 L448.67 252.07 L448.94 251.94 L449.21 251.82 L449.47 251.69 L449.74 251.55 L450.01 251.42 L450.27 251.29 L450.54 251.15 L450.8 251.01 L451.06 250.87 L451.32 250.73 L451.59 250.59 L451.85 250.45 L452.11 250.3 L452.36 250.15 L452.62 250 L452.88 249.85 L453.13 249.7 L453.39 249.55 L453.64 249.39 L453.9 249.23 L454.15 249.08 L454.4 248.92 L454.65 248.75 L454.9 248.59 L455.15 248.43 L455.39 248.26 L455.64 248.09 L455.88 247.92 L456.13 247.75 L456.37 247.58 L456.61 247.41 L456.85 247.23 L457.09 247.06 L457.33 246.88 L457.57 246.7 L457.8 246.52 L458.04 246.33 L458.27 246.15 L458.51 245.97 L458.74 245.78 L458.97 245.59 L459.2 245.4 L459.43 245.21 L459.65 245.02 L459.88 244.82 L460.1 244.63 L460.33 244.43 L460.55 244.24 L460.68 244.12 L460.58 244.13 L460.41 244.15 L460.24 244.17 L460.07 244.19 L459.9 244.21 L459.73 244.22 L459.56 244.23 L459.39 244.24 L459.22 244.25 L459.04 244.26 L458.87 244.26 L458.7 244.26 L458.53 244.26 L458.36 244.26 L458.18 244.25 L458.01 244.24 L457.84 244.23 L457.67 244.22 L457.5 244.21 L457.33 244.19 L457.16 244.17 L456.99 244.15 L456.82 244.13 L456.65 244.11 L456.48 244.08 L456.31 244.05 L456.14 244.02 L455.97 243.99 L455.8 243.96 L455.63 243.92 L455.47 243.88 L455.3 243.84 L455.13 243.8 L454.97 243.75 L454.8 243.71 L454.64 243.66 L454.47 243.61 L454.31 243.55 L454.15 243.5 L453.98 243.44 L453.82 243.38 L453.66 243.32 L453.5 243.26 L453.34 243.19 L453.18 243.13 L453.03 243.06 L452.87 242.99 L452.71 242.92 L452.56 242.84 L452.41 242.76 L452.25 242.69 L452.1 242.61 L451.95 242.52 L451.8 242.44 L451.65 242.36 L451.5 242.27 L451.36 242.18 L451.21 242.09 L451.07 241.99 L450.92 241.9 L450.78 241.8 L450.64 241.71 L450.5 241.61 L450.36 241.5 L450.22 241.4 L450.09 241.3 L449.95 241.19 L449.82 241.08 L449.69 240.97 L449.56 240.86 L449.43 240.75 L449.3 240.63 L449.17 240.52 L449.05 240.4 L448.92 240.28 L448.8 240.16 L448.68 240.04 L448.56 239.91 L448.44 239.79 L448.33 239.66 L448.21 239.53 L448.1 239.4 L447.99 239.27 L447.88 239.14 L447.77 239.01 L447.66 238.87 L447.56 238.74 L447.46 238.6 L447.35 238.46 L447.25 238.32 L447.16 238.18 L447.06 238.04 L446.96 237.89 L446.87 237.75 L446.78 237.6 L446.69 237.46 L446.6 237.31 L446.52 237.16 L446.43 237.01 L446.35 236.86 L446.27 236.71 L446.19 236.55 L446.12 236.4 L446.04 236.25 L445.97 236.09 L445.9 235.93 L445.83 235.78 L445.77 235.62 L445.7 235.46 L445.64 235.3 L445.58 235.14 L445.52 234.98 L445.46 234.81 L445.41 234.65 L445.35 234.49 L445.3 234.32 L445.25 234.16 L445.21 233.99 L445.16 233.83 L445.12 233.66 L445.08 233.49 L445.04 233.33 L445 233.16 L444.97 232.99 L444.94 232.82 L444.91 232.65 L444.88 232.48 L444.85 232.31 L444.83 232.14 L444.81 231.97 L444.79 231.8 L444.77 231.63 L444.75 231.46 L444.74 231.29 L444.73 231.12 L444.72 230.95 L444.71 230.77 L444.7 230.6 L444.7 230.43 L444.7 230.26 L444.7 230.09 L444.7 229.92 L444.71 229.74 L444.72 229.57 L444.73 229.4 L444.74 229.23 L444.75 229.06 L444.77 228.89 L444.79 228.72 L444.81 228.55 L444.83 228.38 L444.85 228.21 L444.88 228.04 L444.91 227.87 L444.94 227.7 L444.97 227.53 L445 227.36 L445.04 227.19 L445.08 227.02 L445.12 226.86 L445.16 226.69 L445.21 226.53 L445.25 226.36 L445.3 226.2 L445.35 226.03 L445.41 225.87 L445.46 225.71 L445.52 225.54 L445.58 225.38 L445.64 225.22 L445.7 225.06 L445.77 224.9 L445.83 224.74 L445.9 224.59 L445.97 224.43 L446.04 224.27 L446.12 224.12 L446.19 223.96 L446.27 223.81 L446.35 223.66 L446.43 223.51 L446.52 223.36 L446.6 223.21 L446.69 223.06 L446.78 222.92 L446.87 222.77 L446.96 222.62 L447.06 222.48 L447.16 222.34 L447.25 222.2 L447.35 222.06 L447.46 221.92 L447.56 221.78 L447.66 221.65 L447.77 221.51 L447.88 221.38 L447.99 221.25 L448.1 221.12 L448.21 220.99 L448.33 220.86 L448.44 220.73 L448.56 220.61 L448.68 220.48 L448.8 220.36 L448.92 220.24 L449.05 220.12 L449.17 220 L449.3 219.89 L449.43 219.77 L449.56 219.66 L449.69 219.55 L449.82 219.44 L449.95 219.33 L450.09 219.22 L450.22 219.12 L450.36 219.01 L450.5 218.91 L450.64 218.81 L450.78 218.72 L450.92 218.62 L451.07 218.52 L451.21 218.43 L451.36 218.34 L451.5 218.25 L451.65 218.16 L451.8 218.08 L451.95 217.99 L452.1 217.91 L452.25 217.83 L452.41 217.75 L452.56 217.68 L452.71 217.6 L452.87 217.53 L453.03 217.46 L453.18 217.39 L453.34 217.33 L453.5 217.26 L453.66 217.2 L453.82 217.14 L453.98 217.08 L454.15 217.02 L454.31 216.97 L454.47 216.91 L454.64 216.86 L454.8 216.81 L454.97 216.77 L455.13 216.72 L455.3 216.68 L455.47 216.64 L455.63 216.6 L455.8 216.56 L455.97 216.53 L456.14 216.5 L456.31 216.47 L456.48 216.44 L456.65 216.41 L456.82 216.39 L456.99 216.36 L457.16 216.34 L457.33 216.33 L457.5 216.31 L457.67 216.3 L457.84 216.29 L458.01 216.28 L458.18 216.27 L458.36 216.26 L458.53 216.26 L458.7 216.26 L458.87 216.26 L459.04 216.26 L459.22 216.27 L459.39 216.28 L459.56 216.29 L459.73 216.3 L459.9 216.31 L460.07 216.33 L460.24 216.34 L460.41 216.36 L460.58 216.39 L460.75 216.41 L460.92 216.44 L461.09 216.47 L461.26 216.5 L461.43 216.53 L461.6 216.56 L461.77 216.6 L461.93 216.64 L462.1 216.68 L462.27 216.72 L462.43 216.77 L462.6 216.81 L462.76 216.86 L462.93 216.91 L463.09 216.97 L463.25 217.02 L463.42 217.08 L463.58 217.14 L463.74 217.2 L463.9 217.26 L464.06 217.33 L464.22 217.39 L464.37 217.46 L464.53 217.53 L464.69 217.6 L464.84 217.68 L464.99 217.75 L465.15 217.83 L465.3 217.91 L465.45 217.99 L465.6 218.08 L465.75 218.16 L465.9 218.25 L466.04 218.34 L466.19 218.43 L466.33 218.52 L466.48 218.62 L466.62 218.72 L466.76 218.81 L466.9 218.91 L467.04 219.01 L467.18 219.12 L467.31 219.22 L467.45 219.33 L467.58 219.44 L467.71 219.55 L467.84 219.66 L467.97 219.77 L468.1 219.89 L468.23 220 L468.35 220.12 L468.48 220.24 L468.6 220.36 L468.72 220.48 L468.84 220.61 L468.96 220.73 L469.07 220.86 L469.19 220.99 L469.3 221.12 L469.41 221.25 L469.52 221.38 L469.63 221.51 L469.74 221.65 L469.84 221.78 L469.94 221.92 L470.05 222.06 L470.15 222.2 L470.24 222.34 L470.34 222.48 L470.44 222.62 L470.53 222.77 L470.62 222.92 L470.71 223.06 L470.8 223.21 L470.88 223.36 L470.96 223.51 L471.05 223.66 L471.13 223.81 L471.21 223.96 L471.28 224.12 L471.36 224.27 L471.43 224.43 L471.5 224.59 L471.57 224.74 L471.63 224.9 L471.7 225.06 L471.76 225.22 L471.82 225.38 L471.88 225.54 L471.94 225.71 L471.99 225.87 L472.05 226.03 L472.1 226.2 L472.15 226.36 L472.19 226.53 L472.24 226.69 L472.28 226.86 L472.32 227.02 L472.36 227.19 L472.4 227.36 L472.43 227.53 L472.46 227.7 L472.49 227.86 L472.54 227.75 L472.66 227.48 L472.78 227.21 L472.89 226.93 L473.01 226.66 L473.12 226.38 L473.23 226.11 L473.34 225.83 L473.45 225.55 L473.56 225.28 L473.66 225 L473.76 224.72 L473.86 224.44 L473.96 224.16 L474.06 223.88 L474.16 223.6 L474.25 223.31 L474.34 223.03 L474.44 222.75 L474.52 222.46 L474.61 222.18 L474.7 221.89 L474.78 221.61 L474.86 221.32 L474.94 221.04 L475.02 220.75 L475.1 220.46 L475.17 220.17 L475.25 219.88 L475.32 219.6 L475.39 219.31 L475.46 219.02 L475.52 218.73 L475.59 218.44 L475.65 218.14 L475.71 217.85 L475.77 217.56 L475.83 217.27 L475.88 216.98 L475.93 216.68 L475.99 216.39 L476.04 216.1 L476.08 215.8 L476.13 215.51 L476.18 215.22 L476.22 214.92 L476.26 214.63 L476.3 214.33 L476.34 214.04 L476.37 213.74 L476.4 213.45 L476.44 213.15 L476.47 212.85 L476.49 212.56 L476.52 212.26 L476.55 211.96 L476.57 211.67 L476.59 211.37 L476.61 211.07 L476.63 210.78 L476.64 210.48 L476.66 210.18 L476.67 209.89 L476.68 209.59 L476.69 209.29 L476.69 208.99 L476.7 208.7 L476.7 208.4 L476.7 208.1 L476.7 207.8 L476.7 207.5 L476.69 207.21 L476.69 206.91 Z" fill="none" stroke="#1c1c1c" stroke-width="1.2"/>
<clipPath id="hubc"><path d="M476.69 206.91 L476.68 206.61 L476.67 206.31 L476.66 206.02 L476.64 205.72 L476.63 205.42 L476.61 205.13 L476.59 204.83 L476.57 204.53 L476.55 204.24 L476.52 203.94 L476.49 203.64 L476.47 203.35 L476.44 203.05 L476.4 202.75 L476.37 202.46 L476.34 202.16 L476.3 201.87 L476.26 201.57 L476.22 201.28 L476.18 200.98 L476.13 200.69 L476.08 200.4 L476.04 200.1 L475.99 199.81 L475.93 199.52 L475.88 199.22 L475.83 198.93 L475.77 198.64 L475.71 198.35 L475.65 198.06 L475.59 197.76 L475.52 197.47 L475.46 197.18 L475.39 196.89 L475.32 196.6 L475.25 196.32 L475.17 196.03 L475.1 195.74 L475.02 195.45 L474.94 195.16 L474.86 194.88 L474.78 194.59 L474.7 194.31 L474.61 194.02 L474.52 193.74 L474.44 193.45 L474.34 193.17 L474.25 192.89 L474.16 192.6 L474.06 192.32 L473.96 192.04 L473.86 191.76 L473.76 191.48 L473.66 191.2 L473.56 190.92 L473.45 190.65 L473.34 190.37 L473.23 190.09 L473.12 189.82 L473.01 189.54 L472.89 189.27 L472.78 188.99 L472.66 188.72 L472.54 188.45 L472.42 188.17 L472.29 187.9 L472.17 187.63 L472.04 187.36 L471.92 187.09 L471.79 186.83 L471.65 186.56 L471.52 186.29 L471.39 186.03 L471.25 185.76 L471.11 185.5 L470.97 185.24 L470.83 184.98 L470.69 184.71 L470.55 184.45 L470.4 184.19 L470.25 183.94 L470.1 183.68 L469.95 183.42 L469.8 183.17 L469.65 182.91 L469.49 182.66 L469.33 182.4 L469.18 182.15 L469.02 181.9 L468.85 181.65 L468.69 181.4 L468.53 181.15 L468.36 180.91 L468.19 180.66 L468.02 180.42 L467.85 180.17 L467.68 179.93 L467.51 179.69 L467.33 179.45 L467.16 179.21 L466.98 178.97 L466.8 178.73 L466.62 178.5 L466.43 178.26 L466.25 178.03 L466.07 177.79 L465.88 177.56 L465.69 177.33 L465.5 177.1 L465.31 176.87 L465.12 176.65 L464.92 176.42 L464.73 176.2 L464.53 175.97 L464.34 175.75 L464.22 175.62 L464.23 175.72 L464.25 175.89 L464.27 176.06 L464.29 176.23 L464.31 176.4 L464.32 176.57 L464.33 176.74 L464.34 176.91 L464.35 177.08 L464.36 177.26 L464.36 177.43 L464.36 177.6 L464.36 177.77 L464.36 177.94 L464.35 178.12 L464.34 178.29 L464.33 178.46 L464.32 178.63 L464.31 178.8 L464.29 178.97 L464.27 179.14 L464.25 179.31 L464.23 179.48 L464.21 179.65 L464.18 179.82 L464.15 179.99 L464.12 180.16 L464.09 180.33 L464.06 180.5 L464.02 180.67 L463.98 180.83 L463.94 181 L463.9 181.17 L463.85 181.33 L463.81 181.5 L463.76 181.66 L463.71 181.83 L463.65 181.99 L463.6 182.15 L463.54 182.32 L463.48 182.48 L463.42 182.64 L463.36 182.8 L463.29 182.96 L463.23 183.12 L463.16 183.27 L463.09 183.43 L463.02 183.59 L462.94 183.74 L462.86 183.89 L462.79 184.05 L462.71 184.2 L462.62 184.35 L462.54 184.5 L462.46 184.65 L462.37 184.8 L462.28 184.94 L462.19 185.09 L462.09 185.23 L462 185.38 L461.9 185.52 L461.81 185.66 L461.71 185.8 L461.6 185.94 L461.5 186.08 L461.4 186.21 L461.29 186.35 L461.18 186.48 L461.07 186.61 L460.96 186.74 L460.85 186.87 L460.73 187 L460.62 187.13 L460.5 187.25 L460.38 187.38 L460.26 187.5 L460.14 187.62 L460.01 187.74 L459.89 187.86 L459.76 187.97 L459.63 188.09 L459.5 188.2 L459.37 188.31 L459.24 188.42 L459.11 188.53 L458.97 188.64 L458.84 188.74 L458.7 188.84 L458.56 188.95 L458.42 189.05 L458.28 189.14 L458.14 189.24 L457.99 189.34 L457.85 189.43 L457.7 189.52 L457.56 189.61 L457.41 189.7 L457.26 189.78 L457.11 189.87 L456.96 189.95 L456.81 190.03 L456.65 190.11 L456.5 190.18 L456.35 190.26 L456.19 190.33 L456.03 190.4 L455.88 190.47 L455.72 190.53 L455.56 190.6 L455.4 190.66 L455.24 190.72 L455.08 190.78 L454.91 190.84 L454.75 190.89 L454.59 190.95 L454.42 191 L454.26 191.05 L454.09 191.09 L453.93 191.14 L453.76 191.18 L453.59 191.22 L453.43 191.26 L453.26 191.3 L453.09 191.33 L452.92 191.36 L452.75 191.39 L452.58 191.42 L452.41 191.45 L452.24 191.47 L452.07 191.49 L451.9 191.51 L451.73 191.53 L451.56 191.55 L451.39 191.56 L451.22 191.57 L451.05 191.58 L450.87 191.59 L450.7 191.6 L450.53 191.6 L450.36 191.6 L450.19 191.6 L450.02 191.6 L449.84 191.59 L449.67 191.58 L449.5 191.57 L449.33 191.56 L449.16 191.55 L448.99 191.53 L448.82 191.51 L448.65 191.49 L448.48 191.47 L448.31 191.45 L448.14 191.42 L447.97 191.39 L447.8 191.36 L447.63 191.33 L447.46 191.3 L447.29 191.26 L447.12 191.22 L446.96 191.18 L446.79 191.14 L446.63 191.09 L446.46 191.05 L446.3 191 L446.13 190.95 L445.97 190.89 L445.81 190.84 L445.64 190.78 L445.48 190.72 L445.32 190.66 L445.16 190.6 L445 190.53 L444.84 190.47 L444.69 190.4 L444.53 190.33 L444.37 190.26 L444.22 190.18 L444.06 190.11 L443.91 190.03 L443.76 189.95 L443.61 189.87 L443.46 189.78 L443.31 189.7 L443.16 189.61 L443.02 189.52 L442.87 189.43 L442.72 189.34 L442.58 189.24 L442.44 189.14 L442.3 189.05 L442.16 188.95 L442.02 188.84 L441.88 188.74 L441.75 188.64 L441.61 188.53 L441.48 188.42 L441.35 188.31 L441.22 188.2 L441.09 188.09 L440.96 187.97 L440.83 187.86 L440.71 187.74 L440.58 187.62 L440.46 187.5 L440.34 187.38 L440.22 187.25 L440.1 187.13 L439.99 187 L439.87 186.87 L439.76 186.74 L439.65 186.61 L439.54 186.48 L439.43 186.35 L439.32 186.21 L439.22 186.08 L439.11 185.94 L439.01 185.8 L438.91 185.66 L438.82 185.52 L438.72 185.38 L438.62 185.23 L438.53 185.09 L438.44 184.94 L438.35 184.8 L438.26 184.65 L438.18 184.5 L438.09 184.35 L438.01 184.2 L437.93 184.05 L437.85 183.89 L437.78 183.74 L437.7 183.59 L437.63 183.43 L437.56 183.27 L437.49 183.12 L437.43 182.96 L437.36 182.8 L437.3 182.64 L437.24 182.48 L437.18 182.32 L437.12 182.15 L437.07 181.99 L437.01 181.83 L436.96 181.66 L436.91 181.5 L436.87 181.33 L436.82 181.17 L436.78 181 L436.74 180.83 L436.7 180.67 L436.66 180.5 L436.63 180.33 L436.6 180.16 L436.57 179.99 L436.54 179.82 L436.51 179.65 L436.49 179.48 L436.46 179.31 L436.44 179.14 L436.43 178.97 L436.41 178.8 L436.4 178.63 L436.39 178.46 L436.38 178.29 L436.37 178.12 L436.36 177.94 L436.36 177.77 L436.36 177.6 L436.36 177.43 L436.36 177.26 L436.37 177.08 L436.38 176.91 L436.39 176.74 L436.4 176.57 L436.41 176.4 L436.43 176.23 L436.44 176.06 L436.46 175.89 L436.49 175.72 L436.51 175.55 L436.54 175.38 L436.57 175.21 L436.6 175.04 L436.63 174.87 L436.66 174.7 L436.7 174.53 L436.74 174.37 L436.78 174.2 L436.82 174.03 L436.87 173.87 L436.91 173.7 L436.96 173.54 L437.01 173.37 L437.07 173.21 L437.12 173.05 L437.18 172.88 L437.24 172.72 L437.3 172.56 L437.36 172.4 L437.43 172.24 L437.49 172.08 L437.56 171.93 L437.63 171.77 L437.7 171.61 L437.78 171.46 L437.85 171.31 L437.93 171.15 L438.01 171 L438.09 170.85 L438.18 170.7 L438.26 170.55 L438.35 170.4 L438.44 170.26 L438.53 170.11 L438.62 169.97 L438.72 169.82 L438.82 169.68 L438.91 169.54 L439.01 169.4 L439.11 169.26 L439.22 169.12 L439.32 168.99 L439.43 168.85 L439.54 168.72 L439.65 168.59 L439.76 168.46 L439.87 168.33 L439.99 168.2 L440.1 168.07 L440.22 167.95 L440.34 167.82 L440.46 167.7 L440.58 167.58 L440.71 167.46 L440.83 167.34 L440.96 167.23 L441.09 167.11 L441.22 167 L441.35 166.89 L441.48 166.78 L441.61 166.67 L441.75 166.56 L441.88 166.46 L442.02 166.36 L442.16 166.25 L442.3 166.15 L442.44 166.06 L442.58 165.96 L442.72 165.86 L442.87 165.77 L443.02 165.68 L443.16 165.59 L443.31 165.5 L443.46 165.42 L443.61 165.34 L443.76 165.25 L443.91 165.17 L444.06 165.09 L444.22 165.02 L444.37 164.94 L444.53 164.87 L444.69 164.8 L444.84 164.73 L445 164.67 L445.16 164.6 L445.32 164.54 L445.48 164.48 L445.64 164.42 L445.81 164.36 L445.97 164.31 L446.13 164.25 L446.3 164.2 L446.46 164.15 L446.63 164.11 L446.79 164.06 L446.96 164.02 L447.12 163.98 L447.29 163.94 L447.46 163.9 L447.63 163.87 L447.8 163.84 L447.96 163.81 L447.85 163.76 L447.58 163.64 L447.31 163.52 L447.03 163.41 L446.76 163.29 L446.48 163.18 L446.21 163.07 L445.93 162.96 L445.65 162.85 L445.38 162.74 L445.1 162.64 L444.82 162.54 L444.54 162.44 L444.26 162.34 L443.98 162.24 L443.7 162.14 L443.41 162.05 L443.13 161.96 L442.85 161.86 L442.56 161.78 L442.28 161.69 L441.99 161.6 L441.71 161.52 L441.42 161.44 L441.14 161.36 L440.85 161.28 L440.56 161.2 L440.27 161.13 L439.98 161.05 L439.7 160.98 L439.41 160.91 L439.12 160.84 L438.83 160.78 L438.54 160.71 L438.24 160.65 L437.95 160.59 L437.66 160.53 L437.37 160.47 L437.08 160.42 L436.78 160.37 L436.49 160.31 L436.2 160.26 L435.9 160.22 L435.61 160.17 L435.32 160.12 L435.02 160.08 L434.73 160.04 L434.43 160 L434.14 159.96 L433.84 159.93 L433.55 159.9 L433.25 159.86 L432.95 159.83 L432.66 159.81 L432.36 159.78 L432.06 159.75 L431.77 159.73 L431.47 159.71 L431.17 159.69 L430.88 159.67 L430.58 159.66 L430.28 159.64 L429.99 159.63 L429.69 159.62 L429.39 159.61 L429.09 159.61 L428.8 159.6 L428.5 159.6 L428.2 159.6 L427.9 159.6 L427.6 159.6 L427.31 159.61 L427.01 159.61 L426.71 159.62 L426.41 159.63 L426.12 159.64 L425.82 159.66 L425.52 159.67 L425.23 159.69 L424.93 159.71 L424.63 159.73 L424.34 159.75 L424.04 159.78 L423.74 159.81 L423.45 159.83 L423.15 159.86 L422.85 159.9 L422.56 159.93 L422.26 159.96 L421.97 160 L421.67 160.04 L421.38 160.08 L421.08 160.12 L420.79 160.17 L420.5 160.22 L420.2 160.26 L419.91 160.31 L419.62 160.37 L419.32 160.42 L419.03 160.47 L418.74 160.53 L418.45 160.59 L418.16 160.65 L417.86 160.71 L417.57 160.78 L417.28 160.84 L416.99 160.91 L416.7 160.98 L416.42 161.05 L416.13 161.13 L415.84 161.2 L415.55 161.28 L415.26 161.36 L414.98 161.44 L414.69 161.52 L414.41 161.6 L414.12 161.69 L413.84 161.78 L413.55 161.86 L413.27 161.96 L412.99 162.05 L412.7 162.14 L412.42 162.24 L412.14 162.34 L411.86 162.44 L411.58 162.54 L411.3 162.64 L411.02 162.74 L410.75 162.85 L410.47 162.96 L410.19 163.07 L409.92 163.18 L409.64 163.29 L409.37 163.41 L409.09 163.52 L408.82 163.64 L408.55 163.76 L408.27 163.88 L408 164.01 L407.73 164.13 L407.46 164.26 L407.19 164.38 L406.93 164.51 L406.66 164.65 L406.39 164.78 L406.13 164.91 L405.86 165.05 L405.6 165.19 L405.34 165.33 L405.08 165.47 L404.81 165.61 L404.55 165.75 L404.29 165.9 L404.04 166.05 L403.78 166.2 L403.52 166.35 L403.27 166.5 L403.01 166.65 L402.76 166.81 L402.5 166.97 L402.25 167.12 L402 167.28 L401.75 167.45 L401.5 167.61 L401.25 167.77 L401.01 167.94 L400.76 168.11 L400.52 168.28 L400.27 168.45 L400.03 168.62 L399.79 168.79 L399.55 168.97 L399.31 169.14 L399.07 169.32 L398.83 169.5 L398.6 169.68 L398.36 169.87 L398.13 170.05 L397.89 170.23 L397.66 170.42 L397.43 170.61 L397.2 170.8 L396.97 170.99 L396.75 171.18 L396.52 171.38 L396.3 171.57 L396.07 171.77 L395.85 171.96 L395.72 172.08 L395.82 172.07 L395.99 172.05 L396.16 172.03 L396.33 172.01 L396.5 171.99 L396.67 171.98 L396.84 171.97 L397.01 171.96 L397.18 171.95 L397.36 171.94 L397.53 171.94 L397.7 171.94 L397.87 171.94 L398.04 171.94 L398.22 171.95 L398.39 171.96 L398.56 171.97 L398.73 171.98 L398.9 171.99 L399.07 172.01 L399.24 172.03 L399.41 172.05 L399.58 172.07 L399.75 172.09 L399.92 172.12 L400.09 172.15 L400.26 172.18 L400.43 172.21 L400.6 172.24 L400.77 172.28 L400.93 172.32 L401.1 172.36 L401.27 172.4 L401.43 172.45 L401.6 172.49 L401.76 172.54 L401.93 172.59 L402.09 172.65 L402.25 172.7 L402.42 172.76 L402.58 172.82 L402.74 172.88 L402.9 172.94 L403.06 173.01 L403.22 173.07 L403.37 173.14 L403.53 173.21 L403.69 173.28 L403.84 173.36 L403.99 173.44 L404.15 173.51 L404.3 173.59 L404.45 173.68 L404.6 173.76 L404.75 173.84 L404.9 173.93 L405.04 174.02 L405.19 174.11 L405.33 174.21 L405.48 174.3 L405.62 174.4 L405.76 174.49 L405.9 174.59 L406.04 174.7 L406.18 174.8 L406.31 174.9 L406.45 175.01 L406.58 175.12 L406.71 175.23 L406.84 175.34 L406.97 175.45 L407.1 175.57 L407.23 175.68 L407.35 175.8 L407.48 175.92 L407.6 176.04 L407.72 176.16 L407.84 176.29 L407.96 176.41 L408.07 176.54 L408.19 176.67 L408.3 176.8 L408.41 176.93 L408.52 177.06 L408.63 177.19 L408.74 177.33 L408.84 177.46 L408.94 177.6 L409.05 177.74 L409.15 177.88 L409.24 178.02 L409.34 178.16 L409.44 178.31 L409.53 178.45 L409.62 178.6 L409.71 178.74 L409.8 178.89 L409.88 179.04 L409.97 179.19 L410.05 179.34 L410.13 179.49 L410.21 179.65 L410.28 179.8 L410.36 179.95 L410.43 180.11 L410.5 180.27 L410.57 180.42 L410.63 180.58 L410.7 180.74 L410.76 180.9 L410.82 181.06 L410.88 181.22 L410.94 181.39 L410.99 181.55 L411.05 181.71 L411.1 181.88 L411.15 182.04 L411.19 182.21 L411.24 182.37 L411.28 182.54 L411.32 182.71 L411.36 182.87 L411.4 183.04 L411.43 183.21 L411.46 183.38 L411.49 183.55 L411.52 183.72 L411.55 183.89 L411.57 184.06 L411.59 184.23 L411.61 184.4 L411.63 184.57 L411.65 184.74 L411.66 184.91 L411.67 185.08 L411.68 185.25 L411.69 185.43 L411.7 185.6 L411.7 185.77 L411.7 185.94 L411.7 186.11 L411.7 186.28 L411.69 186.46 L411.68 186.63 L411.67 186.8 L411.66 186.97 L411.65 187.14 L411.63 187.31 L411.61 187.48 L411.59 187.65 L411.57 187.82 L411.55 187.99 L411.52 188.16 L411.49 188.33 L411.46 188.5 L411.43 188.67 L411.4 188.84 L411.36 189.01 L411.32 189.18 L411.28 189.34 L411.24 189.51 L411.19 189.67 L411.15 189.84 L411.1 190 L411.05 190.17 L410.99 190.33 L410.94 190.49 L410.88 190.66 L410.82 190.82 L410.76 190.98 L410.7 191.14 L410.63 191.3 L410.57 191.46 L410.5 191.61 L410.43 191.77 L410.36 191.93 L410.28 192.08 L410.21 192.24 L410.13 192.39 L410.05 192.54 L409.97 192.69 L409.88 192.84 L409.8 192.99 L409.71 193.14 L409.62 193.28 L409.53 193.43 L409.44 193.58 L409.34 193.72 L409.24 193.86 L409.15 194 L409.05 194.14 L408.94 194.28 L408.84 194.42 L408.74 194.55 L408.63 194.69 L408.52 194.82 L408.41 194.95 L408.3 195.08 L408.19 195.21 L408.07 195.34 L407.96 195.47 L407.84 195.59 L407.72 195.72 L407.6 195.84 L407.48 195.96 L407.35 196.08 L407.23 196.2 L407.1 196.31 L406.97 196.43 L406.84 196.54 L406.71 196.65 L406.58 196.76 L406.45 196.87 L406.31 196.98 L406.18 197.08 L406.04 197.19 L405.9 197.29 L405.76 197.39 L405.62 197.48 L405.48 197.58 L405.33 197.68 L405.19 197.77 L405.04 197.86 L404.9 197.95 L404.75 198.04 L404.6 198.12 L404.45 198.21 L404.3 198.29 L404.15 198.37 L403.99 198.45 L403.84 198.52 L403.69 198.6 L403.53 198.67 L403.37 198.74 L403.22 198.81 L403.06 198.87 L402.9 198.94 L402.74 199 L402.58 199.06 L402.42 199.12 L402.25 199.18 L402.09 199.23 L401.93 199.29 L401.76 199.34 L401.6 199.39 L401.43 199.43 L401.27 199.48 L401.1 199.52 L400.93 199.56 L400.77 199.6 L400.6 199.64 L400.43 199.67 L400.26 199.7 L400.09 199.73 L399.92 199.76 L399.75 199.79 L399.58 199.81 L399.41 199.84 L399.24 199.86 L399.07 199.87 L398.9 199.89 L398.73 199.9 L398.56 199.91 L398.39 199.92 L398.22 199.93 L398.04 199.94 L397.87 199.94 L397.7 199.94 L397.53 199.94 L397.36 199.94 L397.18 199.93 L397.01 199.92 L396.84 199.91 L396.67 199.9 L396.5 199.89 L396.33 199.87 L396.16 199.86 L395.99 199.84 L395.82 199.81 L395.65 199.79 L395.48 199.76 L395.31 199.73 L395.14 199.7 L394.97 199.67 L394.8 199.64 L394.63 199.6 L394.47 199.56 L394.3 199.52 L394.13 199.48 L393.97 199.43 L393.8 199.39 L393.64 199.34 L393.47 199.29 L393.31 199.23 L393.15 199.18 L392.98 199.12 L392.82 199.06 L392.66 199 L392.5 198.94 L392.34 198.87 L392.18 198.81 L392.03 198.74 L391.87 198.67 L391.71 198.6 L391.56 198.52 L391.41 198.45 L391.25 198.37 L391.1 198.29 L390.95 198.21 L390.8 198.12 L390.65 198.04 L390.5 197.95 L390.36 197.86 L390.21 197.77 L390.07 197.68 L389.92 197.58 L389.78 197.48 L389.64 197.39 L389.5 197.29 L389.36 197.19 L389.22 197.08 L389.09 196.98 L388.95 196.87 L388.82 196.76 L388.69 196.65 L388.56 196.54 L388.43 196.43 L388.3 196.31 L388.17 196.2 L388.05 196.08 L387.92 195.96 L387.8 195.84 L387.68 195.72 L387.56 195.59 L387.44 195.47 L387.33 195.34 L387.21 195.21 L387.1 195.08 L386.99 194.95 L386.88 194.82 L386.77 194.69 L386.66 194.55 L386.56 194.42 L386.46 194.28 L386.35 194.14 L386.25 194 L386.16 193.86 L386.06 193.72 L385.96 193.58 L385.87 193.43 L385.78 193.28 L385.69 193.14 L385.6 192.99 L385.52 192.84 L385.44 192.69 L385.35 192.54 L385.27 192.39 L385.19 192.24 L385.12 192.08 L385.04 191.93 L384.97 191.77 L384.9 191.61 L384.83 191.46 L384.77 191.3 L384.7 191.14 L384.64 190.98 L384.58 190.82 L384.52 190.66 L384.46 190.49 L384.41 190.33 L384.35 190.17 L384.3 190 L384.25 189.84 L384.21 189.67 L384.16 189.51 L384.12 189.34 L384.08 189.18 L384.04 189.01 L384 188.84 L383.97 188.67 L383.94 188.5 L383.91 188.34 L383.86 188.45 L383.74 188.72 L383.62 188.99 L383.51 189.27 L383.39 189.54 L383.28 189.82 L383.17 190.09 L383.06 190.37 L382.95 190.65 L382.84 190.92 L382.74 191.2 L382.64 191.48 L382.54 191.76 L382.44 192.04 L382.34 192.32 L382.24 192.6 L382.15 192.89 L382.06 193.17 L381.96 193.45 L381.88 193.74 L381.79 194.02 L381.7 194.31 L381.62 194.59 L381.54 194.88 L381.46 195.16 L381.38 195.45 L381.3 195.74 L381.23 196.03 L381.15 196.32 L381.08 196.6 L381.01 196.89 L380.94 197.18 L380.88 197.47 L380.81 197.76 L380.75 198.06 L380.69 198.35 L380.63 198.64 L380.57 198.93 L380.52 199.22 L380.47 199.52 L380.41 199.81 L380.36 200.1 L380.32 200.4 L380.27 200.69 L380.22 200.98 L380.18 201.28 L380.14 201.57 L380.1 201.87 L380.06 202.16 L380.03 202.46 L380 202.75 L379.96 203.05 L379.93 203.35 L379.91 203.64 L379.88 203.94 L379.85 204.24 L379.83 204.53 L379.81 204.83 L379.79 205.13 L379.77 205.42 L379.76 205.72 L379.74 206.02 L379.73 206.31 L379.72 206.61 L379.71 206.91 L379.71 207.21 L379.7 207.5 L379.7 207.8 L379.7 208.1 L379.7 208.4 L379.7 208.7 L379.71 208.99 L379.71 209.29 L379.72 209.59 L379.73 209.89 L379.74 210.18 L379.76 210.48 L379.77 210.78 L379.79 211.07 L379.81 211.37 L379.83 211.67 L379.85 211.96 L379.88 212.26 L379.91 212.56 L379.93 212.85 L379.96 213.15 L380 213.45 L380.03 213.74 L380.06 214.04 L380.1 214.33 L380.14 214.63 L380.18 214.92 L380.22 215.22 L380.27 215.51 L380.32 215.8 L380.36 216.1 L380.41 216.39 L380.47 216.68 L380.52 216.98 L380.57 217.27 L380.63 217.56 L380.69 217.85 L380.75 218.14 L380.81 218.44 L380.88 218.73 L380.94 219.02 L381.01 219.31 L381.08 219.6 L381.15 219.88 L381.23 220.17 L381.3 220.46 L381.38 220.75 L381.46 221.04 L381.54 221.32 L381.62 221.61 L381.7 221.89 L381.79 222.18 L381.88 222.46 L381.96 222.75 L382.06 223.03 L382.15 223.31 L382.24 223.6 L382.34 223.88 L382.44 224.16 L382.54 224.44 L382.64 224.72 L382.74 225 L382.84 225.28 L382.95 225.55 L383.06 225.83 L383.17 226.11 L383.28 226.38 L383.39 226.66 L383.51 226.93 L383.62 227.21 L383.74 227.48 L383.86 227.75 L383.98 228.03 L384.11 228.3 L384.23 228.57 L384.36 228.84 L384.48 229.11 L384.61 229.37 L384.75 229.64 L384.88 229.91 L385.01 230.17 L385.15 230.44 L385.29 230.7 L385.43 230.96 L385.57 231.22 L385.71 231.49 L385.85 231.75 L386 232.01 L386.15 232.26 L386.3 232.52 L386.45 232.78 L386.6 233.03 L386.75 233.29 L386.91 233.54 L387.07 233.8 L387.22 234.05 L387.38 234.3 L387.55 234.55 L387.71 234.8 L387.87 235.05 L388.04 235.29 L388.21 235.54 L388.38 235.78 L388.55 236.03 L388.72 236.27 L388.89 236.51 L389.07 236.75 L389.24 236.99 L389.42 237.23 L389.6 237.47 L389.78 237.7 L389.97 237.94 L390.15 238.17 L390.33 238.41 L390.52 238.64 L390.71 238.87 L390.9 239.1 L391.09 239.33 L391.28 239.55 L391.48 239.78 L391.67 240 L391.87 240.23 L392.06 240.45 L392.18 240.58 L392.17 240.48 L392.15 240.31 L392.13 240.14 L392.11 239.97 L392.09 239.8 L392.08 239.63 L392.07 239.46 L392.06 239.29 L392.05 239.12 L392.04 238.94 L392.04 238.77 L392.04 238.6 L392.04 238.43 L392.04 238.26 L392.05 238.08 L392.06 237.91 L392.07 237.74 L392.08 237.57 L392.09 237.4 L392.11 237.23 L392.13 237.06 L392.15 236.89 L392.17 236.72 L392.19 236.55 L392.22 236.38 L392.25 236.21 L392.28 236.04 L392.31 235.87 L392.34 235.7 L392.38 235.53 L392.42 235.37 L392.46 235.2 L392.5 235.03 L392.55 234.87 L392.59 234.7 L392.64 234.54 L392.69 234.37 L392.75 234.21 L392.8 234.05 L392.86 233.88 L392.92 233.72 L392.98 233.56 L393.04 233.4 L393.11 233.24 L393.17 233.08 L393.24 232.93 L393.31 232.77 L393.38 232.61 L393.46 232.46 L393.54 232.31 L393.61 232.15 L393.69 232 L393.78 231.85 L393.86 231.7 L393.94 231.55 L394.03 231.4 L394.12 231.26 L394.21 231.11 L394.31 230.97 L394.4 230.82 L394.5 230.68 L394.59 230.54 L394.69 230.4 L394.8 230.26 L394.9 230.12 L395 229.99 L395.11 229.85 L395.22 229.72 L395.33 229.59 L395.44 229.46 L395.55 229.33 L395.67 229.2 L395.78 229.07 L395.9 228.95 L396.02 228.82 L396.14 228.7 L396.26 228.58 L396.39 228.46 L396.51 228.34 L396.64 228.23 L396.77 228.11 L396.9 228 L397.03 227.89 L397.16 227.78 L397.29 227.67 L397.43 227.56 L397.56 227.46 L397.7 227.36 L397.84 227.25 L397.98 227.15 L398.12 227.06 L398.26 226.96 L398.41 226.86 L398.55 226.77 L398.7 226.68 L398.84 226.59 L398.99 226.5 L399.14 226.42 L399.29 226.33 L399.44 226.25 L399.59 226.17 L399.75 226.09 L399.9 226.02 L400.05 225.94 L400.21 225.87 L400.37 225.8 L400.52 225.73 L400.68 225.67 L400.84 225.6 L401 225.54 L401.16 225.48 L401.32 225.42 L401.49 225.36 L401.65 225.31 L401.81 225.25 L401.98 225.2 L402.14 225.15 L402.31 225.11 L402.47 225.06 L402.64 225.02 L402.81 224.98 L402.97 224.94 L403.14 224.9 L403.31 224.87 L403.48 224.84 L403.65 224.81 L403.82 224.78 L403.99 224.75 L404.16 224.73 L404.33 224.71 L404.5 224.69 L404.67 224.67 L404.84 224.65 L405.01 224.64 L405.18 224.63 L405.35 224.62 L405.53 224.61 L405.7 224.6 L405.87 224.6 L406.04 224.6 L406.21 224.6 L406.38 224.6 L406.56 224.61 L406.73 224.62 L406.9 224.63 L407.07 224.64 L407.24 224.65 L407.41 224.67 L407.58 224.69 L407.75 224.71 L407.92 224.73 L408.09 224.75 L408.26 224.78 L408.43 224.81 L408.6 224.84 L408.77 224.87 L408.94 224.9 L409.11 224.94 L409.28 224.98 L409.44 225.02 L409.61 225.06 L409.77 225.11 L409.94 225.15 L410.1 225.2 L410.27 225.25 L410.43 225.31 L410.59 225.36 L410.76 225.42 L410.92 225.48 L411.08 225.54 L411.24 225.6 L411.4 225.67 L411.56 225.73 L411.71 225.8 L411.87 225.87 L412.03 225.94 L412.18 226.02 L412.34 226.09 L412.49 226.17 L412.64 226.25 L412.79 226.33 L412.94 226.42 L413.09 226.5 L413.24 226.59 L413.38 226.68 L413.53 226.77 L413.68 226.86 L413.82 226.96 L413.96 227.06 L414.1 227.15 L414.24 227.25 L414.38 227.36 L414.52 227.46 L414.65 227.56 L414.79 227.67 L414.92 227.78 L415.05 227.89 L415.18 228 L415.31 228.11 L415.44 228.23 L415.57 228.34 L415.69 228.46 L415.82 228.58 L415.94 228.7 L416.06 228.82 L416.18 228.95 L416.3 229.07 L416.41 229.2 L416.53 229.33 L416.64 229.46 L416.75 229.59 L416.86 229.72 L416.97 229.85 L417.08 229.99 L417.18 230.12 L417.29 230.26 L417.39 230.4 L417.49 230.54 L417.58 230.68 L417.68 230.82 L417.78 230.97 L417.87 231.11 L417.96 231.26 L418.05 231.4 L418.14 231.55 L418.22 231.7 L418.31 231.85 L418.39 232 L418.47 232.15 L418.55 232.31 L418.62 232.46 L418.7 232.61 L418.77 232.77 L418.84 232.93 L418.91 233.08 L418.97 233.24 L419.04 233.4 L419.1 233.56 L419.16 233.72 L419.22 233.88 L419.28 234.05 L419.33 234.21 L419.39 234.37 L419.44 234.54 L419.49 234.7 L419.53 234.87 L419.58 235.03 L419.62 235.2 L419.66 235.37 L419.7 235.53 L419.74 235.7 L419.77 235.87 L419.8 236.04 L419.83 236.21 L419.86 236.38 L419.89 236.55 L419.91 236.72 L419.94 236.89 L419.96 237.06 L419.97 237.23 L419.99 237.4 L420 237.57 L420.01 237.74 L420.02 237.91 L420.03 238.08 L420.04 238.26 L420.04 238.43 L420.04 238.6 L420.04 238.77 L420.04 238.94 L420.03 239.12 L420.02 239.29 L420.01 239.46 L420 239.63 L419.99 239.8 L419.97 239.97 L419.96 240.14 L419.94 240.31 L419.91 240.48 L419.89 240.65 L419.86 240.82 L419.83 240.99 L419.8 241.16 L419.77 241.33 L419.74 241.5 L419.7 241.67 L419.66 241.83 L419.62 242 L419.58 242.17 L419.53 242.33 L419.49 242.5 L419.44 242.66 L419.39 242.83 L419.33 242.99 L419.28 243.15 L419.22 243.32 L419.16 243.48 L419.1 243.64 L419.04 243.8 L418.97 243.96 L418.91 244.12 L418.84 244.27 L418.77 244.43 L418.7 244.59 L418.62 244.74 L418.55 244.89 L418.47 245.05 L418.39 245.2 L418.31 245.35 L418.22 245.5 L418.14 245.65 L418.05 245.8 L417.96 245.94 L417.87 246.09 L417.78 246.23 L417.68 246.38 L417.58 246.52 L417.49 246.66 L417.39 246.8 L417.29 246.94 L417.18 247.08 L417.08 247.21 L416.97 247.35 L416.86 247.48 L416.75 247.61 L416.64 247.74 L416.53 247.87 L416.41 248 L416.3 248.13 L416.18 248.25 L416.06 248.38 L415.94 248.5 L415.82 248.62 L415.69 248.74 L415.57 248.86 L415.44 248.97 L415.31 249.09 L415.18 249.2 L415.05 249.31 L414.92 249.42 L414.79 249.53 L414.65 249.64 L414.52 249.74 L414.38 249.84 L414.24 249.95 L414.1 250.05 L413.96 250.14 L413.82 250.24 L413.68 250.34 L413.53 250.43 L413.38 250.52 L413.24 250.61 L413.09 250.7 L412.94 250.78 L412.79 250.86 L412.64 250.95 L412.49 251.03 L412.34 251.11 L412.18 251.18 L412.03 251.26 L411.87 251.33 L411.71 251.4 L411.56 251.47 L411.4 251.53 L411.24 251.6 L411.08 251.66 L410.92 251.72 L410.76 251.78 L410.59 251.84 L410.43 251.89 L410.27 251.95 L410.1 252 L409.94 252.05 L409.77 252.09 L409.61 252.14 L409.44 252.18 L409.28 252.22 L409.11 252.26 L408.94 252.3 L408.77 252.33 L408.6 252.36 L408.44 252.39 L408.55 252.44 L408.82 252.56 L409.09 252.68 L409.37 252.79 L409.64 252.91 L409.92 253.02 L410.19 253.13 L410.47 253.24 L410.75 253.35 L411.02 253.46 L411.3 253.56 L411.58 253.66 L411.86 253.76 L412.14 253.86 L412.42 253.96 L412.7 254.06 L412.99 254.15 L413.27 254.24 L413.55 254.34 L413.84 254.42 L414.12 254.51 L414.41 254.6 L414.69 254.68 L414.98 254.76 L415.26 254.84 L415.55 254.92 L415.84 255 L416.13 255.07 L416.42 255.15 L416.7 255.22 L416.99 255.29 L417.28 255.36 L417.57 255.42 L417.86 255.49 L418.16 255.55 L418.45 255.61 L418.74 255.67 L419.03 255.73 L419.32 255.78 L419.62 255.83 L419.91 255.89 L420.2 255.94 L420.5 255.98 L420.79 256.03 L421.08 256.08 L421.38 256.12 L421.67 256.16 L421.97 256.2 L422.26 256.24 L422.56 256.27 L422.85 256.3 L423.15 256.34 L423.45 256.37 L423.74 256.39 L424.04 256.42 L424.34 256.45 L424.63 256.47 L424.93 256.49 L425.23 256.51 L425.52 256.53 L425.82 256.54 L426.12 256.56 L426.41 256.57 L426.71 256.58 L427.01 256.59 L427.31 256.59 L427.6 256.6 L427.9 256.6 L428.2 256.6 L428.5 256.6 L428.8 256.6 L429.09 256.59 L429.39 256.59 L429.69 256.58 L429.99 256.57 L430.28 256.56 L430.58 256.54 L430.88 256.53 L431.17 256.51 L431.47 256.49 L431.77 256.47 L432.06 256.45 L432.36 256.42 L432.66 256.39 L432.95 256.37 L433.25 256.34 L433.55 256.3 L433.84 256.27 L434.14 256.24 L434.43 256.2 L434.73 256.16 L435.02 256.12 L435.32 256.08 L435.61 256.03 L435.9 255.98 L436.2 255.94 L436.49 255.89 L436.78 255.83 L437.08 255.78 L437.37 255.73 L437.66 255.67 L437.95 255.61 L438.24 255.55 L438.54 255.49 L438.83 255.42 L439.12 255.36 L439.41 255.29 L439.7 255.22 L439.98 255.15 L440.27 255.07 L440.56 255 L440.85 254.92 L441.14 254.84 L441.42 254.76 L441.71 254.68 L441.99 254.6 L442.28 254.51 L442.56 254.42 L442.85 254.34 L443.13 254.24 L443.41 254.15 L443.7 254.06 L443.98 253.96 L444.26 253.86 L444.54 253.76 L444.82 253.66 L445.1 253.56 L445.38 253.46 L445.65 253.35 L445.93 253.24 L446.21 253.13 L446.48 253.02 L446.76 252.91 L447.03 252.79 L447.31 252.68 L447.58 252.56 L447.85 252.44 L448.13 252.32 L448.4 252.19 L448.67 252.07 L448.94 251.94 L449.21 251.82 L449.47 251.69 L449.74 251.55 L450.01 251.42 L450.27 251.29 L450.54 251.15 L450.8 251.01 L451.06 250.87 L451.32 250.73 L451.59 250.59 L451.85 250.45 L452.11 250.3 L452.36 250.15 L452.62 250 L452.88 249.85 L453.13 249.7 L453.39 249.55 L453.64 249.39 L453.9 249.23 L454.15 249.08 L454.4 248.92 L454.65 248.75 L454.9 248.59 L455.15 248.43 L455.39 248.26 L455.64 248.09 L455.88 247.92 L456.13 247.75 L456.37 247.58 L456.61 247.41 L456.85 247.23 L457.09 247.06 L457.33 246.88 L457.57 246.7 L457.8 246.52 L458.04 246.33 L458.27 246.15 L458.51 245.97 L458.74 245.78 L458.97 245.59 L459.2 245.4 L459.43 245.21 L459.65 245.02 L459.88 244.82 L460.1 244.63 L460.33 244.43 L460.55 244.24 L460.68 244.12 L460.58 244.13 L460.41 244.15 L460.24 244.17 L460.07 244.19 L459.9 244.21 L459.73 244.22 L459.56 244.23 L459.39 244.24 L459.22 244.25 L459.04 244.26 L458.87 244.26 L458.7 244.26 L458.53 244.26 L458.36 244.26 L458.18 244.25 L458.01 244.24 L457.84 244.23 L457.67 244.22 L457.5 244.21 L457.33 244.19 L457.16 244.17 L456.99 244.15 L456.82 244.13 L456.65 244.11 L456.48 244.08 L456.31 244.05 L456.14 244.02 L455.97 243.99 L455.8 243.96 L455.63 243.92 L455.47 243.88 L455.3 243.84 L455.13 243.8 L454.97 243.75 L454.8 243.71 L454.64 243.66 L454.47 243.61 L454.31 243.55 L454.15 243.5 L453.98 243.44 L453.82 243.38 L453.66 243.32 L453.5 243.26 L453.34 243.19 L453.18 243.13 L453.03 243.06 L452.87 242.99 L452.71 242.92 L452.56 242.84 L452.41 242.76 L452.25 242.69 L452.1 242.61 L451.95 242.52 L451.8 242.44 L451.65 242.36 L451.5 242.27 L451.36 242.18 L451.21 242.09 L451.07 241.99 L450.92 241.9 L450.78 241.8 L450.64 241.71 L450.5 241.61 L450.36 241.5 L450.22 241.4 L450.09 241.3 L449.95 241.19 L449.82 241.08 L449.69 240.97 L449.56 240.86 L449.43 240.75 L449.3 240.63 L449.17 240.52 L449.05 240.4 L448.92 240.28 L448.8 240.16 L448.68 240.04 L448.56 239.91 L448.44 239.79 L448.33 239.66 L448.21 239.53 L448.1 239.4 L447.99 239.27 L447.88 239.14 L447.77 239.01 L447.66 238.87 L447.56 238.74 L447.46 238.6 L447.35 238.46 L447.25 238.32 L447.16 238.18 L447.06 238.04 L446.96 237.89 L446.87 237.75 L446.78 237.6 L446.69 237.46 L446.6 237.31 L446.52 237.16 L446.43 237.01 L446.35 236.86 L446.27 236.71 L446.19 236.55 L446.12 236.4 L446.04 236.25 L445.97 236.09 L445.9 235.93 L445.83 235.78 L445.77 235.62 L445.7 235.46 L445.64 235.3 L445.58 235.14 L445.52 234.98 L445.46 234.81 L445.41 234.65 L445.35 234.49 L445.3 234.32 L445.25 234.16 L445.21 233.99 L445.16 233.83 L445.12 233.66 L445.08 233.49 L445.04 233.33 L445 233.16 L444.97 232.99 L444.94 232.82 L444.91 232.65 L444.88 232.48 L444.85 232.31 L444.83 232.14 L444.81 231.97 L444.79 231.8 L444.77 231.63 L444.75 231.46 L444.74 231.29 L444.73 231.12 L444.72 230.95 L444.71 230.77 L444.7 230.6 L444.7 230.43 L444.7 230.26 L444.7 230.09 L444.7 229.92 L444.71 229.74 L444.72 229.57 L444.73 229.4 L444.74 229.23 L444.75 229.06 L444.77 228.89 L444.79 228.72 L444.81 228.55 L444.83 228.38 L444.85 228.21 L444.88 228.04 L444.91 227.87 L444.94 227.7 L444.97 227.53 L445 227.36 L445.04 227.19 L445.08 227.02 L445.12 226.86 L445.16 226.69 L445.21 226.53 L445.25 226.36 L445.3 226.2 L445.35 226.03 L445.41 225.87 L445.46 225.71 L445.52 225.54 L445.58 225.38 L445.64 225.22 L445.7 225.06 L445.77 224.9 L445.83 224.74 L445.9 224.59 L445.97 224.43 L446.04 224.27 L446.12 224.12 L446.19 223.96 L446.27 223.81 L446.35 223.66 L446.43 223.51 L446.52 223.36 L446.6 223.21 L446.69 223.06 L446.78 222.92 L446.87 222.77 L446.96 222.62 L447.06 222.48 L447.16 222.34 L447.25 222.2 L447.35 222.06 L447.46 221.92 L447.56 221.78 L447.66 221.65 L447.77 221.51 L447.88 221.38 L447.99 221.25 L448.1 221.12 L448.21 220.99 L448.33 220.86 L448.44 220.73 L448.56 220.61 L448.68 220.48 L448.8 220.36 L448.92 220.24 L449.05 220.12 L449.17 220 L449.3 219.89 L449.43 219.77 L449.56 219.66 L449.69 219.55 L449.82 219.44 L449.95 219.33 L450.09 219.22 L450.22 219.12 L450.36 219.01 L450.5 218.91 L450.64 218.81 L450.78 218.72 L450.92 218.62 L451.07 218.52 L451.21 218.43 L451.36 218.34 L451.5 218.25 L451.65 218.16 L451.8 218.08 L451.95 217.99 L452.1 217.91 L452.25 217.83 L452.41 217.75 L452.56 217.68 L452.71 217.6 L452.87 217.53 L453.03 217.46 L453.18 217.39 L453.34 217.33 L453.5 217.26 L453.66 217.2 L453.82 217.14 L453.98 217.08 L454.15 217.02 L454.31 216.97 L454.47 216.91 L454.64 216.86 L454.8 216.81 L454.97 216.77 L455.13 216.72 L455.3 216.68 L455.47 216.64 L455.63 216.6 L455.8 216.56 L455.97 216.53 L456.14 216.5 L456.31 216.47 L456.48 216.44 L456.65 216.41 L456.82 216.39 L456.99 216.36 L457.16 216.34 L457.33 216.33 L457.5 216.31 L457.67 216.3 L457.84 216.29 L458.01 216.28 L458.18 216.27 L458.36 216.26 L458.53 216.26 L458.7 216.26 L458.87 216.26 L459.04 216.26 L459.22 216.27 L459.39 216.28 L459.56 216.29 L459.73 216.3 L459.9 216.31 L460.07 216.33 L460.24 216.34 L460.41 216.36 L460.58 216.39 L460.75 216.41 L460.92 216.44 L461.09 216.47 L461.26 216.5 L461.43 216.53 L461.6 216.56 L461.77 216.6 L461.93 216.64 L462.1 216.68 L462.27 216.72 L462.43 216.77 L462.6 216.81 L462.76 216.86 L462.93 216.91 L463.09 216.97 L463.25 217.02 L463.42 217.08 L463.58 217.14 L463.74 217.2 L463.9 217.26 L464.06 217.33 L464.22 217.39 L464.37 217.46 L464.53 217.53 L464.69 217.6 L464.84 217.68 L464.99 217.75 L465.15 217.83 L465.3 217.91 L465.45 217.99 L465.6 218.08 L465.75 218.16 L465.9 218.25 L466.04 218.34 L466.19 218.43 L466.33 218.52 L466.48 218.62 L466.62 218.72 L466.76 218.81 L466.9 218.91 L467.04 219.01 L467.18 219.12 L467.31 219.22 L467.45 219.33 L467.58 219.44 L467.71 219.55 L467.84 219.66 L467.97 219.77 L468.1 219.89 L468.23 220 L468.35 220.12 L468.48 220.24 L468.6 220.36 L468.72 220.48 L468.84 220.61 L468.96 220.73 L469.07 220.86 L469.19 220.99 L469.3 221.12 L469.41 221.25 L469.52 221.38 L469.63 221.51 L469.74 221.65 L469.84 221.78 L469.94 221.92 L470.05 222.06 L470.15 222.2 L470.24 222.34 L470.34 222.48 L470.44 222.62 L470.53 222.77 L470.62 222.92 L470.71 223.06 L470.8 223.21 L470.88 223.36 L470.96 223.51 L471.05 223.66 L471.13 223.81 L471.21 223.96 L471.28 224.12 L471.36 224.27 L471.43 224.43 L471.5 224.59 L471.57 224.74 L471.63 224.9 L471.7 225.06 L471.76 225.22 L471.82 225.38 L471.88 225.54 L471.94 225.71 L471.99 225.87 L472.05 226.03 L472.1 226.2 L472.15 226.36 L472.19 226.53 L472.24 226.69 L472.28 226.86 L472.32 227.02 L472.36 227.19 L472.4 227.36 L472.43 227.53 L472.46 227.7 L472.49 227.86 L472.54 227.75 L472.66 227.48 L472.78 227.21 L472.89 226.93 L473.01 226.66 L473.12 226.38 L473.23 226.11 L473.34 225.83 L473.45 225.55 L473.56 225.28 L473.66 225 L473.76 224.72 L473.86 224.44 L473.96 224.16 L474.06 223.88 L474.16 223.6 L474.25 223.31 L474.34 223.03 L474.44 222.75 L474.52 222.46 L474.61 222.18 L474.7 221.89 L474.78 221.61 L474.86 221.32 L474.94 221.04 L475.02 220.75 L475.1 220.46 L475.17 220.17 L475.25 219.88 L475.32 219.6 L475.39 219.31 L475.46 219.02 L475.52 218.73 L475.59 218.44 L475.65 218.14 L475.71 217.85 L475.77 217.56 L475.83 217.27 L475.88 216.98 L475.93 216.68 L475.99 216.39 L476.04 216.1 L476.08 215.8 L476.13 215.51 L476.18 215.22 L476.22 214.92 L476.26 214.63 L476.3 214.33 L476.34 214.04 L476.37 213.74 L476.4 213.45 L476.44 213.15 L476.47 212.85 L476.49 212.56 L476.52 212.26 L476.55 211.96 L476.57 211.67 L476.59 211.37 L476.61 211.07 L476.63 210.78 L476.64 210.48 L476.66 210.18 L476.67 209.89 L476.68 209.59 L476.69 209.29 L476.69 208.99 L476.7 208.7 L476.7 208.4 L476.7 208.1 L476.7 207.8 L476.7 207.5 L476.69 207.21 L476.69 206.91 Z"/></clipPath>
<g clip-path="url(#hubc)">
<circle cx="428.2" cy="208.1" r="35.6" fill="none" stroke="#333" stroke-width="0.9"/>
</g>
<circle cx="428.2" cy="208.1" r="34.6" fill="none" stroke="#444" stroke-width="0.7"/>
<line x1="419.8" y1="173.51" x2="419.8" y2="160.33" stroke="#1c1c1c" stroke-width="1.0" stroke-linecap="butt"/>
<line x1="436.6" y1="173.51" x2="436.6" y2="160.33" stroke="#1c1c1c" stroke-width="1.0" stroke-linecap="butt"/>
<path d="M419.8 167.2 A41.75 41.75 0 0 1 436.6 167.2" fill="none" stroke="#1c1c1c" stroke-width="1.0"/>
<path d="M419.8 161.96 A46.9 46.9 0 0 1 436.6 161.96" fill="none" stroke="#1c1c1c" stroke-width="1.0"/>
<line x1="462.79" y1="199.7" x2="475.97" y2="199.7" stroke="#1c1c1c" stroke-width="1.0" stroke-linecap="butt"/>
<line x1="462.79" y1="216.5" x2="475.97" y2="216.5" stroke="#1c1c1c" stroke-width="1.0" stroke-linecap="butt"/>
<path d="M469.1 199.7 A41.75 41.75 0 0 1 469.1 216.5" fill="none" stroke="#1c1c1c" stroke-width="1.0"/>
<path d="M474.34 199.7 A46.9 46.9 0 0 1 474.34 216.5" fill="none" stroke="#1c1c1c" stroke-width="1.0"/>
<line x1="436.6" y1="242.69" x2="436.6" y2="255.87" stroke="#1c1c1c" stroke-width="1.0" stroke-linecap="butt"/>
<line x1="419.8" y1="242.69" x2="419.8" y2="255.87" stroke="#1c1c1c" stroke-width="1.0" stroke-linecap="butt"/>
<path d="M436.6 249 A41.75 41.75 0 0 1 419.8 249" fill="none" stroke="#1c1c1c" stroke-width="1.0"/>
<path d="M436.6 254.24 A46.9 46.9 0 0 1 419.8 254.24" fill="none" stroke="#1c1c1c" stroke-width="1.0"/>
<line x1="393.61" y1="216.5" x2="380.43" y2="216.5" stroke="#1c1c1c" stroke-width="1.0" stroke-linecap="butt"/>
<line x1="393.61" y1="199.7" x2="380.43" y2="199.7" stroke="#1c1c1c" stroke-width="1.0" stroke-linecap="butt"/>
<path d="M387.3 216.5 A41.75 41.75 0 0 1 387.3 199.7" fill="none" stroke="#1c1c1c" stroke-width="1.0"/>
<path d="M382.06 216.5 A46.9 46.9 0 0 1 382.06 199.7" fill="none" stroke="#1c1c1c" stroke-width="1.0"/>
<circle cx="428.2" cy="208.1" r="22.4" fill="none" stroke="#1c1c1c" stroke-width="1.2"/>
<circle cx="428.2" cy="135.8" r="6.5" fill="none" stroke="#1c1c1c" stroke-width="1.1"/>
<line x1="428.2" y1="145.3" x2="428.2" y2="126.3" stroke="#444" stroke-width="0.6" stroke-linecap="butt"/>
<line x1="428.19" y1="135.8" x2="428.21" y2="135.8" stroke="#444" stroke-width="0.6" stroke-linecap="butt"/>
<circle cx="496.96" cy="185.76" r="6.5" fill="none" stroke="#1c1c1c" stroke-width="1.1"/>
<line x1="487.93" y1="188.69" x2="506" y2="182.82" stroke="#444" stroke-width="0.6" stroke-linecap="butt"/>
<line x1="496.96" y1="185.75" x2="496.96" y2="185.77" stroke="#444" stroke-width="0.6" stroke-linecap="butt"/>
<circle cx="470.7" cy="266.59" r="6.5" fill="none" stroke="#1c1c1c" stroke-width="1.1"/>
<line x1="465.11" y1="258.91" x2="476.28" y2="274.28" stroke="#444" stroke-width="0.6" stroke-linecap="butt"/>
<line x1="470.7" y1="266.59" x2="470.69" y2="266.6" stroke="#444" stroke-width="0.6" stroke-linecap="butt"/>
<circle cx="385.7" cy="266.59" r="6.5" fill="none" stroke="#1c1c1c" stroke-width="1.1"/>
<line x1="391.29" y1="258.91" x2="380.12" y2="274.28" stroke="#444" stroke-width="0.6" stroke-linecap="butt"/>
<line x1="385.71" y1="266.6" x2="385.7" y2="266.59" stroke="#444" stroke-width="0.6" stroke-linecap="butt"/>
<circle cx="359.44" cy="185.76" r="6.5" fill="none" stroke="#1c1c1c" stroke-width="1.1"/>
<line x1="368.47" y1="188.69" x2="350.4" y2="182.82" stroke="#444" stroke-width="0.6" stroke-linecap="butt"/>
<line x1="359.44" y1="185.77" x2="359.44" y2="185.75" stroke="#444" stroke-width="0.6" stroke-linecap="butt"/>
<circle cx="450.36" cy="177.6" r="7.5" fill="none" stroke="#1c1c1c" stroke-width="1.1"/>
<line x1="444.48" y1="185.69" x2="456.24" y2="169.51" stroke="#444" stroke-width="0.6" stroke-linecap="butt"/>
<line x1="442.27" y1="171.72" x2="458.45" y2="183.48" stroke="#444" stroke-width="0.6" stroke-linecap="butt"/>
<circle cx="458.7" cy="230.26" r="7.5" fill="none" stroke="#1c1c1c" stroke-width="1.1"/>
<line x1="450.61" y1="224.38" x2="466.79" y2="236.14" stroke="#444" stroke-width="0.6" stroke-linecap="butt"/>
<line x1="464.58" y1="222.17" x2="452.82" y2="238.35" stroke="#444" stroke-width="0.6" stroke-linecap="butt"/>
<circle cx="406.04" cy="238.6" r="7.5" fill="none" stroke="#1c1c1c" stroke-width="1.1"/>
<line x1="411.92" y1="230.51" x2="400.16" y2="246.69" stroke="#444" stroke-width="0.6" stroke-linecap="butt"/>
<line x1="414.13" y1="244.48" x2="397.95" y2="232.72" stroke="#444" stroke-width="0.6" stroke-linecap="butt"/>
<circle cx="397.7" cy="185.94" r="7.5" fill="none" stroke="#1c1c1c" stroke-width="1.1"/>
<line x1="405.79" y1="191.82" x2="389.61" y2="180.06" stroke="#444" stroke-width="0.6" stroke-linecap="butt"/>
<line x1="391.82" y1="194.03" x2="403.58" y2="177.85" stroke="#444" stroke-width="0.6" stroke-linecap="butt"/>
<circle cx="415.6" cy="175.88" r="8.3" fill="none" stroke="#1c1c1c" stroke-width="1.1"/>
<circle cx="415.6" cy="175.88" r="3.4" fill="none" stroke="#1c1c1c" stroke-width="1.5"/>
<line x1="417.6" y1="181" x2="413.59" y2="170.75" stroke="#888" stroke-width="0.4" stroke-linecap="butt"/>
<line x1="410.48" y1="177.88" x2="420.72" y2="173.87" stroke="#888" stroke-width="0.4" stroke-linecap="butt"/>
<circle cx="440.8" cy="240.32" r="8.3" fill="none" stroke="#1c1c1c" stroke-width="1.1"/>
<circle cx="440.8" cy="240.32" r="3.4" fill="none" stroke="#1c1c1c" stroke-width="1.5"/>
<line x1="438.8" y1="235.2" x2="442.81" y2="245.45" stroke="#888" stroke-width="0.4" stroke-linecap="butt"/>
<line x1="445.92" y1="238.32" x2="435.68" y2="242.33" stroke="#888" stroke-width="0.4" stroke-linecap="butt"/>
<circle cx="369.71" cy="165.6" r="8.3" fill="none" stroke="#1c1c1c" stroke-width="1.1"/>
<circle cx="369.71" cy="165.6" r="3.4" fill="none" stroke="#1c1c1c" stroke-width="1.5"/>
<line x1="374.16" y1="168.84" x2="365.26" y2="162.37" stroke="#888" stroke-width="0.4" stroke-linecap="butt"/>
<line x1="366.48" y1="170.05" x2="372.94" y2="161.15" stroke="#888" stroke-width="0.4" stroke-linecap="butt"/>
<circle cx="486.69" cy="250.6" r="8.3" fill="none" stroke="#1c1c1c" stroke-width="1.1"/>
<circle cx="486.69" cy="250.6" r="3.4" fill="none" stroke="#1c1c1c" stroke-width="1.5"/>
<line x1="482.24" y1="247.36" x2="491.14" y2="253.83" stroke="#888" stroke-width="0.4" stroke-linecap="butt"/>
<line x1="489.92" y1="246.15" x2="483.46" y2="255.05" stroke="#888" stroke-width="0.4" stroke-linecap="butt"/>
<line x1="279.6" y1="208" x2="576" y2="208" stroke="#333" stroke-width="0.7" stroke-dasharray="16,2.5,2,2.5" stroke-linecap="butt"/>
<line x1="427.8" y1="60.5" x2="427.8" y2="356" stroke="#333" stroke-width="0.7" stroke-dasharray="16,2.5,2,2.5" stroke-linecap="butt"/>
<line x1="428.2" y1="208.1" x2="387.04" y2="102.86" stroke="#333" stroke-width="0.6" stroke-linecap="butt"/>
<line x1="428.2" y1="208.1" x2="443.5" y2="247.22" stroke="#333" stroke-width="0.6" stroke-linecap="butt"/>
<line x1="428.2" y1="208.1" x2="494.62" y2="116.68" stroke="#333" stroke-width="0.6" stroke-linecap="butt"/>
<line x1="428.2" y1="208.1" x2="401.75" y2="244.51" stroke="#333" stroke-width="0.6" stroke-linecap="butt"/>
<path d="M388.39 106.31 A109.3 109.3 0 0 1 428.2 98.8" fill="none" stroke="#2e2e2e" stroke-width="0.7"/>
<path d="M428.2 98.8 A109.3 109.3 0 0 1 492.44 119.67" fill="none" stroke="#2e2e2e" stroke-width="0.7"/>
<path d="M388.39 106.31 L392.76 103.74 L393.34 105.23 Z" fill="#1c1c1c"/>
<path d="M428.2 98.8 L423.2 99.6 L423.2 98 Z" fill="#1c1c1c"/>
<path d="M428.2 98.8 L433.2 98 L433.2 99.6 Z" fill="#1c1c1c"/>
<path d="M492.44 119.67 L487.93 117.38 L488.87 116.09 Z" fill="#1c1c1c"/>
<line x1="317.6" y1="96.3" x2="323.3" y2="96.3" stroke="#2e2e2e" stroke-width="0.7" stroke-linecap="butt"/>
<line x1="323.3" y1="96.3" x2="477.67" y2="260.82" stroke="#2e2e2e" stroke-width="0.7" stroke-linecap="butt"/>
<path d="M378.73 155.38 L383.6 159.03 L382.07 160.47 Z" fill="#1c1c1c"/>
<path d="M477.67 260.82 L472.8 257.17 L474.33 255.73 Z" fill="#1c1c1c"/>
<line x1="337.4" y1="253.3" x2="343" y2="253.3" stroke="#2e2e2e" stroke-width="0.7" stroke-linecap="butt"/>
<line x1="343" y1="253.3" x2="461.5" y2="190.43" stroke="#2e2e2e" stroke-width="0.7" stroke-linecap="butt"/>
<path d="M394.9 225.77 L399.7 222.03 L400.69 223.88 Z" fill="#1c1c1c"/>
<path d="M461.5 190.43 L456.7 194.17 L455.71 192.32 Z" fill="#1c1c1c"/>
<line x1="531" y1="246.4" x2="524" y2="246.4" stroke="#2e2e2e" stroke-width="0.7" stroke-linecap="butt"/>
<line x1="524" y1="246.4" x2="396.07" y2="195.26" stroke="#2e2e2e" stroke-width="0.7" stroke-linecap="butt"/>
<path d="M460.33 220.94 L454.37 219.69 L455.15 217.74 Z" fill="#1c1c1c"/>
<path d="M396.07 195.26 L402.03 196.51 L401.25 198.46 Z" fill="#1c1c1c"/>
<line x1="520.8" y1="96.3" x2="565" y2="96.3" stroke="#2e2e2e" stroke-width="0.7" stroke-linecap="butt"/>
<line x1="520.8" y1="96.3" x2="434.18" y2="133.25" stroke="#2e2e2e" stroke-width="0.7" stroke-linecap="butt"/>
<path d="M434.18 133.25 L439.29 129.93 L440.11 131.86 Z" fill="#1c1c1c"/>
<line x1="520" y1="139.25" x2="577.5" y2="139.25" stroke="#2e2e2e" stroke-width="0.7" stroke-linecap="butt"/>
<line x1="520" y1="139.25" x2="462.62" y2="170.85" stroke="#2e2e2e" stroke-width="0.7" stroke-linecap="butt"/>
<path d="M462.62 170.85 L467.37 167.03 L468.39 168.87 Z" fill="#1c1c1c"/>
<line x1="526.25" y1="324.5" x2="584.5" y2="324.5" stroke="#2e2e2e" stroke-width="0.7" stroke-linecap="butt"/>
<line x1="526.25" y1="324.5" x2="488.58" y2="254.12" stroke="#2e2e2e" stroke-width="0.7" stroke-linecap="butt"/>
<path d="M488.58 254.12 L492.34 258.92 L490.49 259.91 Z" fill="#1c1c1c"/>
</g>
<rect x="273.3" y="84" width="44.3" height="12.3" fill="#fff" stroke="#333" stroke-width="0.8"/>
<rect x="298.3" y="240.7" width="39.1" height="12.6" fill="#fff" stroke="#333" stroke-width="0.8"/>
<rect x="531" y="234.4" width="39.5" height="12" fill="#fff" stroke="#333" stroke-width="0.8"/>
<text x="280.7" y="93.7" font-size="10.4" textLength="28.6" lengthAdjust="spacingAndGlyphs" fill="#2a2a2a">Ø139.7</text>
<text x="304.7" y="250" font-size="10.4" textLength="24.8" lengthAdjust="spacingAndGlyphs" fill="#2a2a2a">Ø73.2</text>
<text x="537.5" y="244" font-size="10.4" textLength="25.5" lengthAdjust="spacingAndGlyphs" fill="#2a2a2a">Ø67.2</text>
<text x="391.7" y="97.3" font-size="10.4" textLength="26.6" lengthAdjust="spacingAndGlyphs" fill="#2a2a2a">21.36°</text>
<text x="454.7" y="99.8" font-size="10.4" textLength="12.8" lengthAdjust="spacingAndGlyphs" fill="#2a2a2a">36°</text>
<text x="524.7" y="92.5" font-size="10.4" textLength="34.5" lengthAdjust="spacingAndGlyphs" fill="#2a2a2a">5-Ø12.7</text>
<text x="526.25" y="136.25" font-size="10.4" textLength="33.75" lengthAdjust="spacingAndGlyphs" fill="#2a2a2a">4-Ø14.7</text>
<text x="533" y="321.25" font-size="10.4" textLength="45" lengthAdjust="spacingAndGlyphs" fill="#2a2a2a">4-M8x1.25</text>
<line x1="426.6" y1="42.5" x2="426.6" y2="51.5" stroke="#1c1c1c" stroke-width="1.8" stroke-linecap="butt"/>
<line x1="419" y1="42.5" x2="426.6" y2="42.5" stroke="#1c1c1c" stroke-width="0.8" stroke-linecap="butt"/>
<path d="M411.3 42.5 L420.3 41.4 L420.3 43.6 Z" fill="#1c1c1c"/>
<line x1="428.2" y1="366.5" x2="428.2" y2="375.5" stroke="#1c1c1c" stroke-width="1.8" stroke-linecap="butt"/>
<line x1="420" y1="375.5" x2="428.2" y2="375.5" stroke="#1c1c1c" stroke-width="0.8" stroke-linecap="butt"/>
<path d="M414 375.5 L423 374.4 L423 376.6 Z" fill="#1c1c1c"/>
</svg>
</body></html>
